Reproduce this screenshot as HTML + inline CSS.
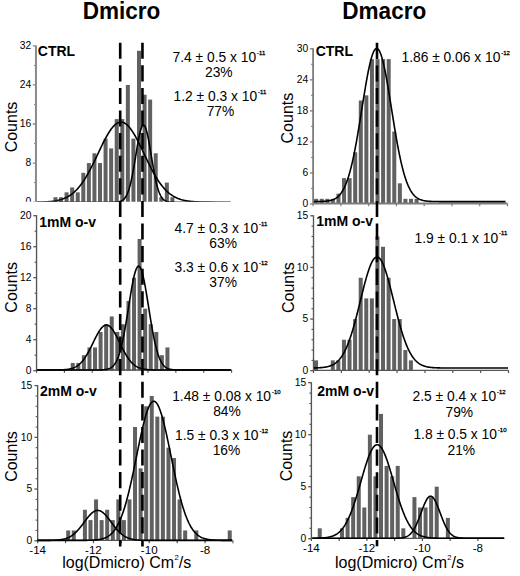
<!DOCTYPE html><html><head><meta charset="utf-8"><style>html,body{margin:0;padding:0;background:#fff;}body{width:520px;height:576px;overflow:hidden;} svg{display:block;}text{font-family:"Liberation Sans", sans-serif;fill:#000;}</style></head><body>
<svg width="520" height="576" viewBox="0 0 520 576">
<defs><clipPath id="c1"><rect x="0" y="0" width="520" height="201.8"/></clipPath><linearGradient id="gL1" gradientUnits="userSpaceOnUse" x1="36" y1="0" x2="232" y2="0"><stop offset="0" stop-color="#b0b0b0"/><stop offset="0.1" stop-color="#202020"/><stop offset="0.16" stop-color="#000"/><stop offset="0.78" stop-color="#000"/><stop offset="0.9" stop-color="#808080"/><stop offset="1" stop-color="#e8e8e8"/></linearGradient></defs>
<rect x="0" y="0" width="520" height="576" fill="#fff"/>
<text transform="translate(82.7 19.0) scale(0.98 1)" font-size="23.0" font-weight="bold">Dmicro</text>
<text transform="translate(342.3 19.0) scale(0.98 1)" font-size="23.0" font-weight="bold">Dmacro</text>
<g clip-path="url(#c1)">
<rect x="53.45" y="197.22" width="4" height="4.88" fill="#616161"/>
<rect x="59.02" y="197.22" width="4" height="4.88" fill="#616161"/>
<rect x="64.59" y="192.34" width="4" height="9.76" fill="#616161"/>
<rect x="70.16" y="187.46" width="4" height="14.64" fill="#616161"/>
<rect x="75.73" y="192.34" width="4" height="9.76" fill="#616161"/>
<rect x="81.3" y="172.81" width="4" height="29.29" fill="#616161"/>
<rect x="86.87" y="163.05" width="4" height="39.05" fill="#616161"/>
<rect x="92.44" y="153.29" width="4" height="48.81" fill="#616161"/>
<rect x="98.01" y="163.05" width="4" height="39.05" fill="#616161"/>
<rect x="103.58" y="138.64" width="4" height="63.46" fill="#616161"/>
<rect x="109.15" y="148.41" width="4" height="53.69" fill="#616161"/>
<rect x="114.72" y="119.12" width="4" height="82.98" fill="#616161"/>
<rect x="120.29" y="119.12" width="4" height="82.98" fill="#616161"/>
<rect x="125.86" y="84.95" width="4" height="117.15" fill="#616161"/>
<rect x="131.43" y="138.64" width="4" height="63.46" fill="#616161"/>
<rect x="137" y="50.78" width="4" height="151.32" fill="#616161"/>
<rect x="142.57" y="94.71" width="4" height="107.39" fill="#616161"/>
<rect x="148.14" y="99.59" width="4" height="102.51" fill="#616161"/>
<rect x="153.71" y="153.29" width="4" height="48.81" fill="#616161"/>
<rect x="159.28" y="197.22" width="4" height="4.88" fill="#616161"/>
<rect x="164.85" y="182.57" width="4" height="19.52" fill="#616161"/>
<rect x="170.42" y="197.22" width="4" height="4.88" fill="#616161"/>
<line x1="35.95" y1="45.4" x2="35.95" y2="202.1" stroke="#8a8a8a" stroke-width="2.0"/>
<line x1="32.75" y1="202.1" x2="35.95" y2="202.1" stroke="#8a8a8a" stroke-width="1.3"/>
<text x="31.2" y="205.4" font-size="10.3" text-anchor="end">0</text>
<line x1="33.95" y1="182.57" x2="35.95" y2="182.57" stroke="#8a8a8a" stroke-width="1.1"/>
<line x1="32.75" y1="163.05" x2="35.95" y2="163.05" stroke="#8a8a8a" stroke-width="1.3"/>
<text x="31.2" y="166.35" font-size="10.3" text-anchor="end">8</text>
<line x1="33.95" y1="143.53" x2="35.95" y2="143.53" stroke="#8a8a8a" stroke-width="1.1"/>
<line x1="32.75" y1="124" x2="35.95" y2="124" stroke="#8a8a8a" stroke-width="1.3"/>
<text x="31.2" y="127.3" font-size="10.3" text-anchor="end">16</text>
<line x1="33.95" y1="104.47" x2="35.95" y2="104.47" stroke="#8a8a8a" stroke-width="1.1"/>
<line x1="32.75" y1="84.95" x2="35.95" y2="84.95" stroke="#8a8a8a" stroke-width="1.3"/>
<text x="31.2" y="88.25" font-size="10.3" text-anchor="end">24</text>
<line x1="33.95" y1="65.43" x2="35.95" y2="65.43" stroke="#8a8a8a" stroke-width="1.1"/>
<line x1="32.75" y1="45.9" x2="35.95" y2="45.9" stroke="#8a8a8a" stroke-width="1.3"/>
<text x="31.2" y="49.2" font-size="10.3" text-anchor="end">32</text>
<path d="M36.9 202.1 L37.4 202.09 L37.9 202.08 L38.4 202.07 L38.9 202.06 L39.4 202.05 L39.9 202.04 L40.4 202.03 L40.9 202.01 L41.4 202 L41.9 201.98 L42.4 201.97 L42.9 201.95 L43.4 201.93 L43.9 201.91 L44.4 201.89 L44.9 201.86 L45.4 201.84 L45.9 201.81 L46.4 201.78 L46.9 201.75 L47.4 201.72 L47.9 201.69 L48.4 201.65 L48.9 201.61 L49.4 201.57 L49.9 201.53 L50.4 201.48 L50.9 201.43 L51.4 201.38 L51.9 201.32 L52.4 201.26 L52.9 201.2 L53.4 201.13 L53.9 201.06 L54.4 200.99 L54.9 200.91 L55.4 200.83 L55.9 200.74 L56.4 200.65 L56.9 200.55 L57.4 200.45 L57.9 200.34 L58.4 200.23 L58.9 200.11 L59.4 199.98 L59.9 199.85 L60.4 199.71 L60.9 199.57 L61.4 199.41 L61.9 199.25 L62.4 199.08 L62.9 198.91 L63.4 198.72 L63.9 198.53 L64.4 198.32 L64.9 198.11 L65.4 197.89 L65.9 197.66 L66.4 197.42 L66.9 197.17 L67.4 196.9 L67.9 196.63 L68.4 196.34 L68.9 196.05 L69.4 195.74 L69.9 195.42 L70.4 195.08 L70.9 194.73 L71.4 194.37 L71.9 194 L72.4 193.61 L72.9 193.21 L73.4 192.8 L73.9 192.37 L74.4 191.92 L74.9 191.46 L75.4 190.98 L75.9 190.49 L76.4 189.99 L76.9 189.46 L77.4 188.92 L77.9 188.37 L78.4 187.8 L78.9 187.21 L79.4 186.6 L79.9 185.98 L80.4 185.34 L80.9 184.69 L81.4 184.02 L81.9 183.33 L82.4 182.62 L82.9 181.9 L83.4 181.16 L83.9 180.4 L84.4 179.63 L84.9 178.84 L85.4 178.04 L85.9 177.22 L86.4 176.38 L86.9 175.53 L87.4 174.66 L87.9 173.78 L88.4 172.88 L88.9 171.97 L89.4 171.05 L89.9 170.11 L90.4 169.16 L90.9 168.2 L91.4 167.23 L91.9 166.24 L92.4 165.25 L92.9 164.25 L93.4 163.23 L93.9 162.21 L94.4 161.19 L94.9 160.15 L95.4 159.11 L95.9 158.07 L96.4 157.02 L96.9 155.97 L97.4 154.91 L97.9 153.86 L98.4 152.8 L98.9 151.75 L99.4 150.69 L99.9 149.64 L100.4 148.6 L100.9 147.56 L101.4 146.52 L101.9 145.49 L102.4 144.48 L102.9 143.47 L103.4 142.47 L103.9 141.48 L104.4 140.5 L104.9 139.54 L105.4 138.6 L105.9 137.67 L106.4 136.76 L106.9 135.86 L107.4 134.99 L107.9 134.13 L108.4 133.3 L108.9 132.49 L109.4 131.71 L109.9 130.95 L110.4 130.21 L110.9 129.51 L111.4 128.83 L111.9 128.17 L112.4 127.55 L112.9 126.96 L113.4 126.4 L113.9 125.87 L114.4 125.38 L114.9 124.91 L115.4 124.49 L115.9 124.09 L116.4 123.73 L116.9 123.41 L117.4 123.12 L117.9 122.87 L118.4 122.66 L118.9 122.48 L119.4 122.34 L119.9 122.24 L120.4 122.17 L120.9 122.15 L121.4 122.16 L121.9 122.21 L122.4 122.3 L122.9 122.42 L123.4 122.58 L123.9 122.78 L124.4 123.02 L124.9 123.29 L125.4 123.6 L125.9 123.94 L126.4 124.32 L126.9 124.74 L127.4 125.19 L127.9 125.67 L128.4 126.19 L128.9 126.73 L129.4 127.31 L129.9 127.92 L130.4 128.56 L130.9 129.23 L131.4 129.93 L131.9 130.65 L132.4 131.4 L132.9 132.18 L133.4 132.98 L133.9 133.8 L134.4 134.64 L134.9 135.51 L135.4 136.4 L135.9 137.3 L136.4 138.22 L136.9 139.16 L137.4 140.12 L137.9 141.09 L138.4 142.07 L138.9 143.06 L139.4 144.07 L139.9 145.09 L140.4 146.11 L140.9 147.14 L141.4 148.18 L141.9 149.23 L142.4 150.27 L142.9 151.33 L143.4 152.38 L143.9 153.43 L144.4 154.49 L144.9 155.54 L145.4 156.6 L145.9 157.65 L146.4 158.69 L146.9 159.74 L147.4 160.77 L147.9 161.8 L148.4 162.83 L148.9 163.84 L149.4 164.85 L149.9 165.85 L150.4 166.84 L150.9 167.81 L151.4 168.78 L151.9 169.73 L152.4 170.68 L152.9 171.6 L153.4 172.52 L153.9 173.42 L154.4 174.31 L154.9 175.18 L155.4 176.04 L155.9 176.88 L156.4 177.71 L156.9 178.52 L157.4 179.32 L157.9 180.1 L158.4 180.86 L158.9 181.61 L159.4 182.34 L159.9 183.05 L160.4 183.74 L160.9 184.42 L161.4 185.08 L161.9 185.73 L162.4 186.36 L162.9 186.97 L163.4 187.56 L163.9 188.14 L164.4 188.7 L164.9 189.25 L165.4 189.78 L165.9 190.29 L166.4 190.79 L166.9 191.27 L167.4 191.74 L167.9 192.19 L168.4 192.63 L168.9 193.05 L169.4 193.45 L169.9 193.85 L170.4 194.23 L170.9 194.59 L171.4 194.94 L171.9 195.28 L172.4 195.61 L172.9 195.92 L173.4 196.23 L173.9 196.52 L174.4 196.79 L174.9 197.06 L175.4 197.32 L175.9 197.56 L176.4 197.8 L176.9 198.02 L177.4 198.24 L177.9 198.45 L178.4 198.64 L178.9 198.83 L179.4 199.01 L179.9 199.18 L180.4 199.35 L180.9 199.51 L181.4 199.65 L181.9 199.8 L182.4 199.93 L182.9 200.06 L183.4 200.18 L183.9 200.3 L184.4 200.41 L184.9 200.51 L185.4 200.61 L185.9 200.71 L186.4 200.8 L186.9 200.88 L187.4 200.96 L187.9 201.04 L188.4 201.11 L188.9 201.17 L189.4 201.24 L189.9 201.3 L190.4 201.36 L190.9 201.41 L191.4 201.46 L191.9 201.51 L192.4 201.55 L192.9 201.6 L193.4 201.64 L193.9 201.67 L194.4 201.71 L194.9 201.74 L195.4 201.77 L195.9 201.8 L196.4 201.83 L196.9 201.85 L197.4 201.88 L197.9 201.9 L198.4 201.92 L198.9 201.94 L199.4 201.96 L199.9 201.98 L200.4 201.99 L200.9 202.01 L201.4 202.02 L201.9 202.04 L202.4 202.05 L202.9 202.06 L203.4 202.07 L203.9 202.08 L204.4 202.09 L204.9 202.1 L205.4 202.1 L205.9 202.11 L206.4 202.12 L206.9 202.13 L207.4 202.13 L207.9 202.14 L208.4 202.14 L208.9 202.15 L209.4 202.15 L209.9 202.15 L210.4 202.16 L210.9 202.16 L211.4 202.16 L211.9 202.17 L212.4 202.17 L212.9 202.17 L213.4 202.17 L213.9 202.18 L214.4 202.18 L214.9 202.18 L215.4 202.18 L215.9 202.18 L216.4 202.19 L216.9 202.19 L217.4 202.19 L217.9 202.19 L218.4 202.19 L218.9 202.19 L219.4 202.19 L219.9 202.19 L220.4 202.19 L220.9 202.19 L221.4 202.19 L221.9 202.19 L222.4 202.2 L222.9 202.2 L223.4 202.2 L223.9 202.2 L224.4 202.2 L224.9 202.2 L225.4 202.2 L225.9 202.2 L226.4 202.2 L226.9 202.2 L227.4 202.2 L227.9 202.2 L228.4 202.2 L228.9 202.2 L229.4 202.2 L229.9 202.2 L230.4 202.2 L230.9 202.2" fill="none" stroke="url(#gL1)" stroke-width="1.6"/>
<path d="M36.9 202.2 L37.4 202.2 L37.9 202.2 L38.4 202.2 L38.9 202.2 L39.4 202.2 L39.9 202.2 L40.4 202.2 L40.9 202.2 L41.4 202.2 L41.9 202.2 L42.4 202.2 L42.9 202.2 L43.4 202.2 L43.9 202.2 L44.4 202.2 L44.9 202.2 L45.4 202.2 L45.9 202.2 L46.4 202.2 L46.9 202.2 L47.4 202.2 L47.9 202.2 L48.4 202.2 L48.9 202.2 L49.4 202.2 L49.9 202.2 L50.4 202.2 L50.9 202.2 L51.4 202.2 L51.9 202.2 L52.4 202.2 L52.9 202.2 L53.4 202.2 L53.9 202.2 L54.4 202.2 L54.9 202.2 L55.4 202.2 L55.9 202.2 L56.4 202.2 L56.9 202.2 L57.4 202.2 L57.9 202.2 L58.4 202.2 L58.9 202.2 L59.4 202.2 L59.9 202.2 L60.4 202.2 L60.9 202.2 L61.4 202.2 L61.9 202.2 L62.4 202.2 L62.9 202.2 L63.4 202.2 L63.9 202.2 L64.4 202.2 L64.9 202.2 L65.4 202.2 L65.9 202.2 L66.4 202.2 L66.9 202.2 L67.4 202.2 L67.9 202.2 L68.4 202.2 L68.9 202.2 L69.4 202.2 L69.9 202.2 L70.4 202.2 L70.9 202.2 L71.4 202.2 L71.9 202.2 L72.4 202.2 L72.9 202.2 L73.4 202.2 L73.9 202.2 L74.4 202.2 L74.9 202.2 L75.4 202.2 L75.9 202.2 L76.4 202.2 L76.9 202.2 L77.4 202.2 L77.9 202.2 L78.4 202.2 L78.9 202.2 L79.4 202.2 L79.9 202.2 L80.4 202.2 L80.9 202.2 L81.4 202.2 L81.9 202.2 L82.4 202.2 L82.9 202.2 L83.4 202.2 L83.9 202.2 L84.4 202.2 L84.9 202.2 L85.4 202.2 L85.9 202.2 L86.4 202.2 L86.9 202.2 L87.4 202.2 L87.9 202.2 L88.4 202.2 L88.9 202.2 L89.4 202.2 L89.9 202.2 L90.4 202.2 L90.9 202.2 L91.4 202.2 L91.9 202.2 L92.4 202.2 L92.9 202.2 L93.4 202.2 L93.9 202.2 L94.4 202.2 L94.9 202.2 L95.4 202.2 L95.9 202.2 L96.4 202.2 L96.9 202.2 L97.4 202.2 L97.9 202.2 L98.4 202.2 L98.9 202.2 L99.4 202.2 L99.9 202.2 L100.4 202.2 L100.9 202.2 L101.4 202.2 L101.9 202.2 L102.4 202.2 L102.9 202.2 L103.4 202.2 L103.9 202.2 L104.4 202.2 L104.9 202.2 L105.4 202.2 L105.9 202.2 L106.4 202.2 L106.9 202.2 L107.4 202.2 L107.9 202.2 L108.4 202.2 L108.9 202.2 L109.4 202.2 L109.9 202.19 L110.4 202.19 L110.9 202.19 L111.4 202.19 L111.9 202.18 L112.4 202.18 L112.9 202.17 L113.4 202.16 L113.9 202.15 L114.4 202.14 L114.9 202.12 L115.4 202.1 L115.9 202.07 L116.4 202.04 L116.9 202 L117.4 201.95 L117.9 201.89 L118.4 201.82 L118.9 201.73 L119.4 201.62 L119.9 201.5 L120.4 201.34 L120.9 201.16 L121.4 200.95 L121.9 200.69 L122.4 200.39 L122.9 200.05 L123.4 199.64 L123.9 199.18 L124.4 198.64 L124.9 198.03 L125.4 197.33 L125.9 196.54 L126.4 195.65 L126.9 194.65 L127.4 193.53 L127.9 192.29 L128.4 190.93 L128.9 189.42 L129.4 187.78 L129.9 185.99 L130.4 184.06 L130.9 181.98 L131.4 179.76 L131.9 177.4 L132.4 174.91 L132.9 172.3 L133.4 169.57 L133.9 166.75 L134.4 163.84 L134.9 160.87 L135.4 157.85 L135.9 154.81 L136.4 151.78 L136.9 148.79 L137.4 145.85 L137.9 143 L138.4 140.27 L138.9 137.68 L139.4 135.27 L139.9 133.06 L140.4 131.08 L140.9 129.35 L141.4 127.89 L141.9 126.72 L142.4 125.86 L142.9 125.31 L143.4 125.08 L143.9 125.18 L144.4 125.6 L144.9 126.34 L145.4 127.39 L145.9 128.73 L146.4 130.36 L146.9 132.24 L147.4 134.36 L147.9 136.69 L148.4 139.21 L148.9 141.89 L149.4 144.7 L149.9 147.6 L150.4 150.58 L150.9 153.6 L151.4 156.64 L151.9 159.66 L152.4 162.66 L152.9 165.59 L153.4 168.45 L153.9 171.22 L154.4 173.88 L154.9 176.42 L155.4 178.84 L155.9 181.11 L156.4 183.25 L156.9 185.23 L157.4 187.08 L157.9 188.78 L158.4 190.34 L158.9 191.76 L159.4 193.05 L159.9 194.22 L160.4 195.26 L160.9 196.2 L161.4 197.03 L161.9 197.76 L162.4 198.41 L162.9 198.97 L163.4 199.47 L163.9 199.89 L164.4 200.26 L164.9 200.58 L165.4 200.85 L165.9 201.08 L166.4 201.27 L166.9 201.44 L167.4 201.58 L167.9 201.69 L168.4 201.79 L168.9 201.87 L169.4 201.93 L169.9 201.98 L170.4 202.03 L170.9 202.06 L171.4 202.09 L171.9 202.11 L172.4 202.13 L172.9 202.15 L173.4 202.16 L173.9 202.17 L174.4 202.18 L174.9 202.18 L175.4 202.19 L175.9 202.19 L176.4 202.19 L176.9 202.19 L177.4 202.2 L177.9 202.2 L178.4 202.2 L178.9 202.2 L179.4 202.2 L179.9 202.2 L180.4 202.2 L180.9 202.2 L181.4 202.2 L181.9 202.2 L182.4 202.2 L182.9 202.2 L183.4 202.2 L183.9 202.2 L184.4 202.2 L184.9 202.2 L185.4 202.2 L185.9 202.2 L186.4 202.2 L186.9 202.2 L187.4 202.2 L187.9 202.2 L188.4 202.2 L188.9 202.2 L189.4 202.2 L189.9 202.2 L190.4 202.2 L190.9 202.2 L191.4 202.2 L191.9 202.2 L192.4 202.2 L192.9 202.2 L193.4 202.2 L193.9 202.2 L194.4 202.2 L194.9 202.2 L195.4 202.2 L195.9 202.2 L196.4 202.2 L196.9 202.2 L197.4 202.2 L197.9 202.2 L198.4 202.2 L198.9 202.2 L199.4 202.2 L199.9 202.2 L200.4 202.2 L200.9 202.2 L201.4 202.2 L201.9 202.2 L202.4 202.2 L202.9 202.2 L203.4 202.2 L203.9 202.2 L204.4 202.2 L204.9 202.2 L205.4 202.2 L205.9 202.2 L206.4 202.2 L206.9 202.2 L207.4 202.2 L207.9 202.2 L208.4 202.2 L208.9 202.2 L209.4 202.2 L209.9 202.2 L210.4 202.2 L210.9 202.2 L211.4 202.2 L211.9 202.2 L212.4 202.2 L212.9 202.2 L213.4 202.2 L213.9 202.2 L214.4 202.2 L214.9 202.2 L215.4 202.2 L215.9 202.2 L216.4 202.2 L216.9 202.2 L217.4 202.2 L217.9 202.2 L218.4 202.2 L218.9 202.2 L219.4 202.2 L219.9 202.2 L220.4 202.2 L220.9 202.2 L221.4 202.2 L221.9 202.2 L222.4 202.2 L222.9 202.2 L223.4 202.2 L223.9 202.2 L224.4 202.2 L224.9 202.2 L225.4 202.2 L225.9 202.2 L226.4 202.2 L226.9 202.2 L227.4 202.2 L227.9 202.2 L228.4 202.2 L228.9 202.2 L229.4 202.2 L229.9 202.2 L230.4 202.2 L230.9 202.2" fill="none" stroke="#000" stroke-width="1.6"/>
</g>
<text x="0" y="0" font-size="16" text-anchor="middle" transform="translate(17.4 127) rotate(-90)">Counts</text>
<text x="37.8" y="55.6" font-size="14" font-weight="bold">CTRL</text>
<rect x="70.75" y="362.95" width="4" height="7.75" fill="#616161"/>
<rect x="76.32" y="362.95" width="4" height="7.75" fill="#616161"/>
<rect x="81.89" y="355.2" width="4" height="15.5" fill="#616161"/>
<rect x="87.46" y="347.45" width="4" height="23.25" fill="#616161"/>
<rect x="93.03" y="347.45" width="4" height="23.25" fill="#616161"/>
<rect x="98.6" y="331.95" width="4" height="38.75" fill="#616161"/>
<rect x="104.17" y="324.2" width="4" height="46.5" fill="#616161"/>
<rect x="109.74" y="316.45" width="4" height="54.25" fill="#616161"/>
<rect x="115.31" y="331.95" width="4" height="38.75" fill="#616161"/>
<rect x="120.88" y="324.2" width="4" height="46.5" fill="#616161"/>
<rect x="126.45" y="300.95" width="4" height="69.75" fill="#616161"/>
<rect x="132.02" y="277.7" width="4" height="93" fill="#616161"/>
<rect x="137.59" y="238.95" width="4" height="131.75" fill="#616161"/>
<rect x="143.16" y="308.7" width="4" height="62" fill="#616161"/>
<rect x="148.73" y="324.2" width="4" height="46.5" fill="#616161"/>
<rect x="154.3" y="331.95" width="4" height="38.75" fill="#616161"/>
<rect x="159.87" y="355.2" width="4" height="15.5" fill="#616161"/>
<rect x="165.44" y="347.45" width="4" height="23.25" fill="#616161"/>
<line x1="36.55" y1="215.2" x2="36.55" y2="370" stroke="#555" stroke-width="1.35"/>
<line x1="33.35" y1="370.7" x2="36.55" y2="370.7" stroke="#555" stroke-width="1.3"/>
<text x="31.4" y="374" font-size="10.3" text-anchor="end">0</text>
<line x1="34.55" y1="355.2" x2="36.55" y2="355.2" stroke="#555" stroke-width="1.1"/>
<line x1="33.35" y1="339.7" x2="36.55" y2="339.7" stroke="#555" stroke-width="1.3"/>
<text x="31.4" y="343" font-size="10.3" text-anchor="end">4</text>
<line x1="34.55" y1="324.2" x2="36.55" y2="324.2" stroke="#555" stroke-width="1.1"/>
<line x1="33.35" y1="308.7" x2="36.55" y2="308.7" stroke="#555" stroke-width="1.3"/>
<text x="31.4" y="312" font-size="10.3" text-anchor="end">8</text>
<line x1="34.55" y1="293.2" x2="36.55" y2="293.2" stroke="#555" stroke-width="1.1"/>
<line x1="33.35" y1="277.7" x2="36.55" y2="277.7" stroke="#555" stroke-width="1.3"/>
<text x="31.4" y="281" font-size="10.3" text-anchor="end">12</text>
<line x1="34.55" y1="262.2" x2="36.55" y2="262.2" stroke="#555" stroke-width="1.1"/>
<line x1="33.35" y1="246.7" x2="36.55" y2="246.7" stroke="#555" stroke-width="1.3"/>
<text x="31.4" y="250" font-size="10.3" text-anchor="end">16</text>
<line x1="34.55" y1="231.2" x2="36.55" y2="231.2" stroke="#555" stroke-width="1.1"/>
<line x1="33.35" y1="215.7" x2="36.55" y2="215.7" stroke="#555" stroke-width="1.3"/>
<text x="31.4" y="219" font-size="10.3" text-anchor="end">20</text>
<line x1="36.55" y1="370" x2="231.7" y2="370" stroke="#555" stroke-width="1.35"/>
<line x1="36.55" y1="370" x2="36.55" y2="372.8" stroke="#555" stroke-width="1.2"/>
<line x1="64.41" y1="370" x2="64.41" y2="372.8" stroke="#555" stroke-width="1.2"/>
<line x1="92.27" y1="370" x2="92.27" y2="372.8" stroke="#555" stroke-width="1.2"/>
<line x1="120.13" y1="370" x2="120.13" y2="372.8" stroke="#555" stroke-width="1.2"/>
<line x1="147.99" y1="370" x2="147.99" y2="372.8" stroke="#555" stroke-width="1.2"/>
<line x1="175.85" y1="370" x2="175.85" y2="372.8" stroke="#555" stroke-width="1.2"/>
<line x1="203.71" y1="370" x2="203.71" y2="372.8" stroke="#555" stroke-width="1.2"/>
<line x1="231.57" y1="370" x2="231.57" y2="372.8" stroke="#555" stroke-width="1.2"/>
<path d="M37.2 370 L37.7 370 L38.2 370 L38.7 370 L39.2 370 L39.7 370 L40.2 370 L40.7 370 L41.2 370 L41.7 370 L42.2 370 L42.7 370 L43.2 370 L43.7 370 L44.2 370 L44.7 370 L45.2 370 L45.7 370 L46.2 370 L46.7 370 L47.2 370 L47.7 370 L48.2 370 L48.7 370 L49.2 370 L49.7 369.99 L50.2 369.99 L50.7 369.99 L51.2 369.99 L51.7 369.99 L52.2 369.99 L52.7 369.99 L53.2 369.98 L53.7 369.98 L54.2 369.98 L54.7 369.98 L55.2 369.97 L55.7 369.97 L56.2 369.96 L56.7 369.96 L57.2 369.95 L57.7 369.94 L58.2 369.94 L58.7 369.93 L59.2 369.92 L59.7 369.91 L60.2 369.89 L60.7 369.88 L61.2 369.86 L61.7 369.84 L62.2 369.82 L62.7 369.8 L63.2 369.77 L63.7 369.74 L64.2 369.71 L64.7 369.67 L65.2 369.63 L65.7 369.58 L66.2 369.53 L66.7 369.48 L67.2 369.42 L67.7 369.35 L68.2 369.27 L68.7 369.19 L69.2 369.1 L69.7 369 L70.2 368.89 L70.7 368.77 L71.2 368.65 L71.7 368.51 L72.2 368.35 L72.7 368.19 L73.2 368.01 L73.7 367.81 L74.2 367.6 L74.7 367.37 L75.2 367.13 L75.7 366.87 L76.2 366.59 L76.7 366.29 L77.2 365.96 L77.7 365.62 L78.2 365.25 L78.7 364.86 L79.2 364.45 L79.7 364.01 L80.2 363.54 L80.7 363.05 L81.2 362.53 L81.7 361.99 L82.2 361.41 L82.7 360.81 L83.2 360.18 L83.7 359.52 L84.2 358.84 L84.7 358.12 L85.2 357.38 L85.7 356.61 L86.2 355.82 L86.7 354.99 L87.2 354.14 L87.7 353.27 L88.2 352.38 L88.7 351.46 L89.2 350.52 L89.7 349.57 L90.2 348.59 L90.7 347.61 L91.2 346.61 L91.7 345.6 L92.2 344.58 L92.7 343.56 L93.2 342.53 L93.7 341.51 L94.2 340.49 L94.7 339.47 L95.2 338.47 L95.7 337.48 L96.2 336.5 L96.7 335.55 L97.2 334.61 L97.7 333.71 L98.2 332.83 L98.7 331.99 L99.2 331.18 L99.7 330.41 L100.2 329.68 L100.7 328.99 L101.2 328.36 L101.7 327.77 L102.2 327.24 L102.7 326.76 L103.2 326.33 L103.7 325.97 L104.2 325.66 L104.7 325.42 L105.2 325.23 L105.7 325.11 L106.2 325.06 L106.7 325.06 L107.2 325.13 L107.7 325.26 L108.2 325.46 L108.7 325.72 L109.2 326.04 L109.7 326.41 L110.2 326.85 L110.7 327.34 L111.2 327.88 L111.7 328.48 L112.2 329.13 L112.7 329.82 L113.2 330.56 L113.7 331.34 L114.2 332.15 L114.7 333 L115.2 333.89 L115.7 334.8 L116.2 335.74 L116.7 336.7 L117.2 337.67 L117.7 338.67 L118.2 339.67 L118.7 340.69 L119.2 341.71 L119.7 342.74 L120.2 343.76 L120.7 344.78 L121.2 345.8 L121.7 346.81 L122.2 347.8 L122.7 348.79 L123.2 349.76 L123.7 350.71 L124.2 351.64 L124.7 352.56 L125.2 353.45 L125.7 354.32 L126.2 355.16 L126.7 355.98 L127.2 356.77 L127.7 357.53 L128.2 358.27 L128.7 358.98 L129.2 359.66 L129.7 360.31 L130.2 360.93 L130.7 361.53 L131.2 362.1 L131.7 362.64 L132.2 363.15 L132.7 363.64 L133.2 364.1 L133.7 364.53 L134.2 364.94 L134.7 365.33 L135.2 365.69 L135.7 366.03 L136.2 366.35 L136.7 366.64 L137.2 366.92 L137.7 367.18 L138.2 367.42 L138.7 367.64 L139.2 367.85 L139.7 368.04 L140.2 368.22 L140.7 368.38 L141.2 368.53 L141.7 368.67 L142.2 368.8 L142.7 368.92 L143.2 369.02 L143.7 369.12 L144.2 369.21 L144.7 369.29 L145.2 369.36 L145.7 369.43 L146.2 369.49 L146.7 369.54 L147.2 369.59 L147.7 369.64 L148.2 369.68 L148.7 369.71 L149.2 369.75 L149.7 369.78 L150.2 369.8 L150.7 369.82 L151.2 369.85 L151.7 369.86 L152.2 369.88 L152.7 369.9 L153.2 369.91 L153.7 369.92 L154.2 369.93 L154.7 369.94 L155.2 369.95 L155.7 369.95 L156.2 369.96 L156.7 369.96 L157.2 369.97 L157.7 369.97 L158.2 369.98 L158.7 369.98 L159.2 369.98 L159.7 369.99 L160.2 369.99 L160.7 369.99 L161.2 369.99 L161.7 369.99 L162.2 369.99 L162.7 369.99 L163.2 370 L163.7 370 L164.2 370 L164.7 370 L165.2 370 L165.7 370 L166.2 370 L166.7 370 L167.2 370 L167.7 370 L168.2 370 L168.7 370 L169.2 370 L169.7 370 L170.2 370 L170.7 370 L171.2 370 L171.7 370 L172.2 370 L172.7 370 L173.2 370 L173.7 370 L174.2 370 L174.7 370 L175.2 370 L175.7 370 L176.2 370 L176.7 370 L177.2 370 L177.7 370 L178.2 370 L178.7 370 L179.2 370 L179.7 370 L180.2 370 L180.7 370 L181.2 370 L181.7 370 L182.2 370 L182.7 370 L183.2 370 L183.7 370 L184.2 370 L184.7 370 L185.2 370 L185.7 370 L186.2 370 L186.7 370 L187.2 370 L187.7 370 L188.2 370 L188.7 370 L189.2 370 L189.7 370 L190.2 370 L190.7 370 L191.2 370 L191.7 370 L192.2 370 L192.7 370 L193.2 370 L193.7 370 L194.2 370 L194.7 370 L195.2 370 L195.7 370 L196.2 370 L196.7 370 L197.2 370 L197.7 370 L198.2 370 L198.7 370 L199.2 370 L199.7 370 L200.2 370 L200.7 370 L201.2 370 L201.7 370 L202.2 370 L202.7 370 L203.2 370 L203.7 370 L204.2 370 L204.7 370 L205.2 370 L205.7 370 L206.2 370 L206.7 370 L207.2 370 L207.7 370 L208.2 370 L208.7 370 L209.2 370 L209.7 370 L210.2 370 L210.7 370 L211.2 370 L211.7 370 L212.2 370 L212.7 370 L213.2 370 L213.7 370 L214.2 370 L214.7 370 L215.2 370 L215.7 370 L216.2 370 L216.7 370 L217.2 370 L217.7 370 L218.2 370 L218.7 370 L219.2 370 L219.7 370 L220.2 370 L220.7 370 L221.2 370 L221.7 370 L222.2 370 L222.7 370 L223.2 370 L223.7 370 L224.2 370 L224.7 370 L225.2 370 L225.7 370 L226.2 370 L226.7 370 L227.2 370 L227.7 370 L228.2 370 L228.7 370 L229.2 370 L229.7 370 L230.2 370 L230.7 370" fill="none" stroke="#000" stroke-width="1.6"/>
<path d="M37.2 370 L37.7 370 L38.2 370 L38.7 370 L39.2 370 L39.7 370 L40.2 370 L40.7 370 L41.2 370 L41.7 370 L42.2 370 L42.7 370 L43.2 370 L43.7 370 L44.2 370 L44.7 370 L45.2 370 L45.7 370 L46.2 370 L46.7 370 L47.2 370 L47.7 370 L48.2 370 L48.7 370 L49.2 370 L49.7 370 L50.2 370 L50.7 370 L51.2 370 L51.7 370 L52.2 370 L52.7 370 L53.2 370 L53.7 370 L54.2 370 L54.7 370 L55.2 370 L55.7 370 L56.2 370 L56.7 370 L57.2 370 L57.7 370 L58.2 370 L58.7 370 L59.2 370 L59.7 370 L60.2 370 L60.7 370 L61.2 370 L61.7 370 L62.2 370 L62.7 370 L63.2 370 L63.7 370 L64.2 370 L64.7 370 L65.2 370 L65.7 370 L66.2 370 L66.7 370 L67.2 370 L67.7 370 L68.2 370 L68.7 370 L69.2 370 L69.7 370 L70.2 370 L70.7 370 L71.2 370 L71.7 370 L72.2 370 L72.7 370 L73.2 370 L73.7 370 L74.2 370 L74.7 370 L75.2 370 L75.7 370 L76.2 370 L76.7 370 L77.2 370 L77.7 370 L78.2 370 L78.7 370 L79.2 370 L79.7 370 L80.2 370 L80.7 370 L81.2 370 L81.7 370 L82.2 370 L82.7 370 L83.2 370 L83.7 370 L84.2 370 L84.7 370 L85.2 370 L85.7 370 L86.2 370 L86.7 370 L87.2 370 L87.7 370 L88.2 370 L88.7 370 L89.2 370 L89.7 370 L90.2 370 L90.7 370 L91.2 370 L91.7 370 L92.2 370 L92.7 370 L93.2 370 L93.7 370 L94.2 369.99 L94.7 369.99 L95.2 369.99 L95.7 369.99 L96.2 369.99 L96.7 369.98 L97.2 369.98 L97.7 369.98 L98.2 369.97 L98.7 369.96 L99.2 369.96 L99.7 369.95 L100.2 369.93 L100.7 369.92 L101.2 369.9 L101.7 369.89 L102.2 369.86 L102.7 369.83 L103.2 369.8 L103.7 369.76 L104.2 369.72 L104.7 369.67 L105.2 369.61 L105.7 369.54 L106.2 369.45 L106.7 369.36 L107.2 369.25 L107.7 369.12 L108.2 368.98 L108.7 368.81 L109.2 368.62 L109.7 368.4 L110.2 368.16 L110.7 367.88 L111.2 367.57 L111.7 367.21 L112.2 366.82 L112.7 366.37 L113.2 365.87 L113.7 365.32 L114.2 364.71 L114.7 364.03 L115.2 363.28 L115.7 362.45 L116.2 361.55 L116.7 360.56 L117.2 359.48 L117.7 358.31 L118.2 357.04 L118.7 355.66 L119.2 354.18 L119.7 352.59 L120.2 350.89 L120.7 349.08 L121.2 347.15 L121.7 345.1 L122.2 342.94 L122.7 340.66 L123.2 338.27 L123.7 335.78 L124.2 333.18 L124.7 330.48 L125.2 327.68 L125.7 324.81 L126.2 321.86 L126.7 318.84 L127.2 315.77 L127.7 312.67 L128.2 309.53 L128.7 306.38 L129.2 303.24 L129.7 300.11 L130.2 297.02 L130.7 293.99 L131.2 291.02 L131.7 288.15 L132.2 285.38 L132.7 282.74 L133.2 280.24 L133.7 277.9 L134.2 275.73 L134.7 273.75 L135.2 271.98 L135.7 270.43 L136.2 269.1 L136.7 268.01 L137.2 267.16 L137.7 266.57 L138.2 266.23 L138.7 266.16 L139.2 266.34 L139.7 266.78 L140.2 267.47 L140.7 268.41 L141.2 269.6 L141.7 271.02 L142.2 272.67 L142.7 274.52 L143.2 276.58 L143.7 278.81 L144.2 281.22 L144.7 283.78 L145.2 286.47 L145.7 289.29 L146.2 292.2 L146.7 295.19 L147.2 298.25 L147.7 301.36 L148.2 304.49 L148.7 307.64 L149.2 310.79 L149.7 313.91 L150.2 317.01 L150.7 320.06 L151.2 323.05 L151.7 325.97 L152.2 328.81 L152.7 331.57 L153.2 334.23 L153.7 336.79 L154.2 339.24 L154.7 341.59 L155.2 343.82 L155.7 345.93 L156.2 347.93 L156.7 349.82 L157.2 351.59 L157.7 353.24 L158.2 354.79 L158.7 356.22 L159.2 357.56 L159.7 358.79 L160.2 359.92 L160.7 360.97 L161.2 361.92 L161.7 362.79 L162.2 363.59 L162.7 364.31 L163.2 364.96 L163.7 365.55 L164.2 366.08 L164.7 366.56 L165.2 366.98 L165.7 367.36 L166.2 367.7 L166.7 368 L167.2 368.26 L167.7 368.49 L168.2 368.7 L168.7 368.88 L169.2 369.04 L169.7 369.18 L170.2 369.3 L170.7 369.4 L171.2 369.49 L171.7 369.57 L172.2 369.63 L172.7 369.69 L173.2 369.74 L173.7 369.78 L174.2 369.82 L174.7 369.85 L175.2 369.87 L175.7 369.89 L176.2 369.91 L176.7 369.93 L177.2 369.94 L177.7 369.95 L178.2 369.96 L178.7 369.97 L179.2 369.97 L179.7 369.98 L180.2 369.98 L180.7 369.99 L181.2 369.99 L181.7 369.99 L182.2 369.99 L182.7 369.99 L183.2 370 L183.7 370 L184.2 370 L184.7 370 L185.2 370 L185.7 370 L186.2 370 L186.7 370 L187.2 370 L187.7 370 L188.2 370 L188.7 370 L189.2 370 L189.7 370 L190.2 370 L190.7 370 L191.2 370 L191.7 370 L192.2 370 L192.7 370 L193.2 370 L193.7 370 L194.2 370 L194.7 370 L195.2 370 L195.7 370 L196.2 370 L196.7 370 L197.2 370 L197.7 370 L198.2 370 L198.7 370 L199.2 370 L199.7 370 L200.2 370 L200.7 370 L201.2 370 L201.7 370 L202.2 370 L202.7 370 L203.2 370 L203.7 370 L204.2 370 L204.7 370 L205.2 370 L205.7 370 L206.2 370 L206.7 370 L207.2 370 L207.7 370 L208.2 370 L208.7 370 L209.2 370 L209.7 370 L210.2 370 L210.7 370 L211.2 370 L211.7 370 L212.2 370 L212.7 370 L213.2 370 L213.7 370 L214.2 370 L214.7 370 L215.2 370 L215.7 370 L216.2 370 L216.7 370 L217.2 370 L217.7 370 L218.2 370 L218.7 370 L219.2 370 L219.7 370 L220.2 370 L220.7 370 L221.2 370 L221.7 370 L222.2 370 L222.7 370 L223.2 370 L223.7 370 L224.2 370 L224.7 370 L225.2 370 L225.7 370 L226.2 370 L226.7 370 L227.2 370 L227.7 370 L228.2 370 L228.7 370 L229.2 370 L229.7 370 L230.2 370 L230.7 370" fill="none" stroke="#000" stroke-width="1.6"/>
<text x="0" y="0" font-size="16" text-anchor="middle" transform="translate(17.4 287.3) rotate(-90)">Counts</text>
<text x="39.2" y="226.5" font-size="14" font-weight="bold">1mM o-v</text>
<rect x="66.2" y="530.45" width="4" height="10.35" fill="#616161"/>
<rect x="71.77" y="530.45" width="4" height="10.35" fill="#616161"/>
<rect x="82.91" y="509.76" width="4" height="31.04" fill="#616161"/>
<rect x="88.48" y="520.11" width="4" height="20.69" fill="#616161"/>
<rect x="94.05" y="499.41" width="4" height="41.39" fill="#616161"/>
<rect x="99.62" y="520.11" width="4" height="20.69" fill="#616161"/>
<rect x="105.19" y="509.76" width="4" height="31.04" fill="#616161"/>
<rect x="110.76" y="520.11" width="4" height="20.69" fill="#616161"/>
<rect x="116.33" y="499.41" width="4" height="41.39" fill="#616161"/>
<rect x="121.9" y="520.11" width="4" height="20.69" fill="#616161"/>
<rect x="127.47" y="499.41" width="4" height="41.39" fill="#616161"/>
<rect x="133.04" y="426.99" width="4" height="113.81" fill="#616161"/>
<rect x="138.61" y="468.37" width="4" height="72.43" fill="#616161"/>
<rect x="144.18" y="406.29" width="4" height="134.51" fill="#616161"/>
<rect x="149.75" y="395.95" width="4" height="144.85" fill="#616161"/>
<rect x="155.32" y="416.64" width="4" height="124.16" fill="#616161"/>
<rect x="160.89" y="416.64" width="4" height="124.16" fill="#616161"/>
<rect x="166.46" y="447.68" width="4" height="93.12" fill="#616161"/>
<rect x="172.03" y="458.03" width="4" height="82.77" fill="#616161"/>
<rect x="177.6" y="499.41" width="4" height="41.39" fill="#616161"/>
<rect x="183.17" y="530.45" width="4" height="10.35" fill="#616161"/>
<rect x="194.31" y="530.45" width="4" height="10.35" fill="#616161"/>
<rect x="227.73" y="530.45" width="4" height="10.35" fill="#616161"/>
<line x1="37.65" y1="385.1" x2="37.65" y2="540.4" stroke="#555" stroke-width="1.35"/>
<line x1="34.45" y1="540.8" x2="37.65" y2="540.8" stroke="#555" stroke-width="1.3"/>
<text x="32.3" y="544.1" font-size="10.3" text-anchor="end">0</text>
<line x1="35.65" y1="530.45" x2="37.65" y2="530.45" stroke="#555" stroke-width="1.1"/>
<line x1="35.65" y1="520.11" x2="37.65" y2="520.11" stroke="#555" stroke-width="1.1"/>
<line x1="35.65" y1="509.76" x2="37.65" y2="509.76" stroke="#555" stroke-width="1.1"/>
<line x1="35.65" y1="499.41" x2="37.65" y2="499.41" stroke="#555" stroke-width="1.1"/>
<line x1="34.45" y1="489.07" x2="37.65" y2="489.07" stroke="#555" stroke-width="1.3"/>
<text x="32.3" y="492.37" font-size="10.3" text-anchor="end">5</text>
<line x1="35.65" y1="478.72" x2="37.65" y2="478.72" stroke="#555" stroke-width="1.1"/>
<line x1="35.65" y1="468.37" x2="37.65" y2="468.37" stroke="#555" stroke-width="1.1"/>
<line x1="35.65" y1="458.03" x2="37.65" y2="458.03" stroke="#555" stroke-width="1.1"/>
<line x1="35.65" y1="447.68" x2="37.65" y2="447.68" stroke="#555" stroke-width="1.1"/>
<line x1="34.45" y1="437.33" x2="37.65" y2="437.33" stroke="#555" stroke-width="1.3"/>
<text x="32.3" y="440.63" font-size="10.3" text-anchor="end">10</text>
<line x1="35.65" y1="426.99" x2="37.65" y2="426.99" stroke="#555" stroke-width="1.1"/>
<line x1="35.65" y1="416.64" x2="37.65" y2="416.64" stroke="#555" stroke-width="1.1"/>
<line x1="35.65" y1="406.29" x2="37.65" y2="406.29" stroke="#555" stroke-width="1.1"/>
<line x1="35.65" y1="395.95" x2="37.65" y2="395.95" stroke="#555" stroke-width="1.1"/>
<line x1="34.45" y1="385.6" x2="37.65" y2="385.6" stroke="#555" stroke-width="1.3"/>
<text x="32.3" y="388.9" font-size="10.3" text-anchor="end">15</text>
<line x1="37.65" y1="540.4" x2="232.9" y2="540.4" stroke="#555" stroke-width="1.35"/>
<line x1="37.65" y1="540.4" x2="37.65" y2="543.2" stroke="#555" stroke-width="1.2"/>
<line x1="65.55" y1="540.4" x2="65.55" y2="543.2" stroke="#555" stroke-width="1.2"/>
<line x1="93.45" y1="540.4" x2="93.45" y2="543.2" stroke="#555" stroke-width="1.2"/>
<line x1="121.35" y1="540.4" x2="121.35" y2="543.2" stroke="#555" stroke-width="1.2"/>
<line x1="149.25" y1="540.4" x2="149.25" y2="543.2" stroke="#555" stroke-width="1.2"/>
<line x1="177.15" y1="540.4" x2="177.15" y2="543.2" stroke="#555" stroke-width="1.2"/>
<line x1="205.05" y1="540.4" x2="205.05" y2="543.2" stroke="#555" stroke-width="1.2"/>
<line x1="232.95" y1="540.4" x2="232.95" y2="543.2" stroke="#555" stroke-width="1.2"/>
<text x="37.65" y="553.6" font-size="11.6" text-anchor="middle">-14</text>
<text x="93.45" y="553.6" font-size="11.6" text-anchor="middle">-12</text>
<text x="149.25" y="553.6" font-size="11.6" text-anchor="middle">-10</text>
<text x="205.05" y="553.6" font-size="11.6" text-anchor="middle">-8</text>
<path d="M37.5 540.4 L38 540.4 L38.5 540.4 L39 540.4 L39.5 540.4 L40 540.4 L40.5 540.4 L41 540.4 L41.5 540.39 L42 540.39 L42.5 540.39 L43 540.39 L43.5 540.39 L44 540.39 L44.5 540.39 L45 540.39 L45.5 540.38 L46 540.38 L46.5 540.38 L47 540.37 L47.5 540.37 L48 540.37 L48.5 540.36 L49 540.36 L49.5 540.35 L50 540.34 L50.5 540.33 L51 540.32 L51.5 540.31 L52 540.3 L52.5 540.29 L53 540.28 L53.5 540.26 L54 540.24 L54.5 540.22 L55 540.2 L55.5 540.17 L56 540.15 L56.5 540.12 L57 540.08 L57.5 540.04 L58 540 L58.5 539.96 L59 539.91 L59.5 539.85 L60 539.79 L60.5 539.73 L61 539.65 L61.5 539.58 L62 539.49 L62.5 539.4 L63 539.3 L63.5 539.19 L64 539.07 L64.5 538.94 L65 538.8 L65.5 538.65 L66 538.5 L66.5 538.32 L67 538.14 L67.5 537.94 L68 537.73 L68.5 537.51 L69 537.27 L69.5 537.01 L70 536.74 L70.5 536.46 L71 536.16 L71.5 535.84 L72 535.5 L72.5 535.15 L73 534.77 L73.5 534.38 L74 533.97 L74.5 533.55 L75 533.1 L75.5 532.64 L76 532.16 L76.5 531.66 L77 531.14 L77.5 530.6 L78 530.05 L78.5 529.49 L79 528.9 L79.5 528.31 L80 527.7 L80.5 527.07 L81 526.44 L81.5 525.79 L82 525.14 L82.5 524.48 L83 523.81 L83.5 523.14 L84 522.47 L84.5 521.8 L85 521.12 L85.5 520.45 L86 519.79 L86.5 519.13 L87 518.48 L87.5 517.85 L88 517.22 L88.5 516.61 L89 516.02 L89.5 515.45 L90 514.9 L90.5 514.37 L91 513.87 L91.5 513.4 L92 512.95 L92.5 512.54 L93 512.16 L93.5 511.81 L94 511.5 L94.5 511.23 L95 510.99 L95.5 510.79 L96 510.63 L96.5 510.51 L97 510.43 L97.5 510.4 L98 510.4 L98.5 510.45 L99 510.53 L99.5 510.66 L100 510.83 L100.5 511.03 L101 511.28 L101.5 511.56 L102 511.88 L102.5 512.23 L103 512.62 L103.5 513.04 L104 513.49 L104.5 513.97 L105 514.48 L105.5 515.01 L106 515.56 L106.5 516.14 L107 516.73 L107.5 517.34 L108 517.97 L108.5 518.61 L109 519.26 L109.5 519.92 L110 520.59 L110.5 521.26 L111 521.93 L111.5 522.61 L112 523.28 L112.5 523.95 L113 524.61 L113.5 525.27 L114 525.92 L114.5 526.57 L115 527.2 L115.5 527.82 L116 528.43 L116.5 529.02 L117 529.6 L117.5 530.16 L118 530.71 L118.5 531.24 L119 531.76 L119.5 532.25 L120 532.73 L120.5 533.19 L121 533.63 L121.5 534.06 L122 534.46 L122.5 534.85 L123 535.22 L123.5 535.57 L124 535.9 L124.5 536.22 L125 536.52 L125.5 536.8 L126 537.07 L126.5 537.32 L127 537.55 L127.5 537.78 L128 537.98 L128.5 538.18 L129 538.36 L129.5 538.53 L130 538.69 L130.5 538.83 L131 538.97 L131.5 539.09 L132 539.21 L132.5 539.32 L133 539.42 L133.5 539.51 L134 539.59 L134.5 539.67 L135 539.74 L135.5 539.8 L136 539.86 L136.5 539.92 L137 539.97 L137.5 540.01 L138 540.05 L138.5 540.09 L139 540.12 L139.5 540.15 L140 540.18 L140.5 540.2 L141 540.22 L141.5 540.24 L142 540.26 L142.5 540.28 L143 540.29 L143.5 540.3 L144 540.32 L144.5 540.33 L145 540.34 L145.5 540.34 L146 540.35 L146.5 540.36 L147 540.36 L147.5 540.37 L148 540.37 L148.5 540.37 L149 540.38 L149.5 540.38 L150 540.38 L150.5 540.39 L151 540.39 L151.5 540.39 L152 540.39 L152.5 540.39 L153 540.39 L153.5 540.39 L154 540.39 L154.5 540.4 L155 540.4 L155.5 540.4 L156 540.4 L156.5 540.4 L157 540.4 L157.5 540.4 L158 540.4 L158.5 540.4 L159 540.4 L159.5 540.4 L160 540.4 L160.5 540.4 L161 540.4 L161.5 540.4 L162 540.4 L162.5 540.4 L163 540.4 L163.5 540.4 L164 540.4 L164.5 540.4 L165 540.4 L165.5 540.4 L166 540.4 L166.5 540.4 L167 540.4 L167.5 540.4 L168 540.4 L168.5 540.4 L169 540.4 L169.5 540.4 L170 540.4 L170.5 540.4 L171 540.4 L171.5 540.4 L172 540.4 L172.5 540.4 L173 540.4 L173.5 540.4 L174 540.4 L174.5 540.4 L175 540.4 L175.5 540.4 L176 540.4 L176.5 540.4 L177 540.4 L177.5 540.4 L178 540.4 L178.5 540.4 L179 540.4 L179.5 540.4 L180 540.4 L180.5 540.4 L181 540.4 L181.5 540.4 L182 540.4 L182.5 540.4 L183 540.4 L183.5 540.4 L184 540.4 L184.5 540.4 L185 540.4 L185.5 540.4 L186 540.4 L186.5 540.4 L187 540.4 L187.5 540.4 L188 540.4 L188.5 540.4 L189 540.4 L189.5 540.4 L190 540.4 L190.5 540.4 L191 540.4 L191.5 540.4 L192 540.4 L192.5 540.4 L193 540.4 L193.5 540.4 L194 540.4 L194.5 540.4 L195 540.4 L195.5 540.4 L196 540.4 L196.5 540.4 L197 540.4 L197.5 540.4 L198 540.4 L198.5 540.4 L199 540.4 L199.5 540.4 L200 540.4 L200.5 540.4 L201 540.4 L201.5 540.4 L202 540.4 L202.5 540.4 L203 540.4 L203.5 540.4 L204 540.4 L204.5 540.4 L205 540.4 L205.5 540.4 L206 540.4 L206.5 540.4 L207 540.4 L207.5 540.4 L208 540.4 L208.5 540.4 L209 540.4 L209.5 540.4 L210 540.4 L210.5 540.4 L211 540.4 L211.5 540.4 L212 540.4 L212.5 540.4 L213 540.4 L213.5 540.4 L214 540.4 L214.5 540.4 L215 540.4 L215.5 540.4 L216 540.4 L216.5 540.4 L217 540.4 L217.5 540.4 L218 540.4 L218.5 540.4 L219 540.4 L219.5 540.4 L220 540.4 L220.5 540.4 L221 540.4 L221.5 540.4 L222 540.4 L222.5 540.4 L223 540.4 L223.5 540.4 L224 540.4 L224.5 540.4 L225 540.4 L225.5 540.4 L226 540.4 L226.5 540.4 L227 540.4 L227.5 540.4 L228 540.4 L228.5 540.4 L229 540.4 L229.5 540.4 L230 540.4 L230.5 540.4 L231 540.4 L231.5 540.4 L232 540.4" fill="none" stroke="#000" stroke-width="1.6"/>
<path d="M37.5 540.4 L38 540.4 L38.5 540.4 L39 540.4 L39.5 540.4 L40 540.4 L40.5 540.4 L41 540.4 L41.5 540.4 L42 540.4 L42.5 540.4 L43 540.4 L43.5 540.4 L44 540.4 L44.5 540.4 L45 540.4 L45.5 540.4 L46 540.4 L46.5 540.4 L47 540.4 L47.5 540.4 L48 540.4 L48.5 540.4 L49 540.4 L49.5 540.4 L50 540.4 L50.5 540.4 L51 540.4 L51.5 540.4 L52 540.4 L52.5 540.4 L53 540.4 L53.5 540.4 L54 540.4 L54.5 540.4 L55 540.4 L55.5 540.4 L56 540.4 L56.5 540.4 L57 540.4 L57.5 540.4 L58 540.4 L58.5 540.4 L59 540.4 L59.5 540.4 L60 540.4 L60.5 540.4 L61 540.4 L61.5 540.4 L62 540.4 L62.5 540.4 L63 540.4 L63.5 540.4 L64 540.4 L64.5 540.4 L65 540.4 L65.5 540.4 L66 540.4 L66.5 540.4 L67 540.4 L67.5 540.4 L68 540.4 L68.5 540.4 L69 540.4 L69.5 540.4 L70 540.4 L70.5 540.4 L71 540.4 L71.5 540.4 L72 540.4 L72.5 540.4 L73 540.4 L73.5 540.4 L74 540.4 L74.5 540.4 L75 540.4 L75.5 540.4 L76 540.39 L76.5 540.39 L77 540.39 L77.5 540.39 L78 540.39 L78.5 540.39 L79 540.39 L79.5 540.39 L80 540.39 L80.5 540.38 L81 540.38 L81.5 540.38 L82 540.38 L82.5 540.37 L83 540.37 L83.5 540.37 L84 540.36 L84.5 540.36 L85 540.35 L85.5 540.35 L86 540.34 L86.5 540.33 L87 540.33 L87.5 540.32 L88 540.31 L88.5 540.3 L89 540.28 L89.5 540.27 L90 540.26 L90.5 540.24 L91 540.22 L91.5 540.2 L92 540.18 L92.5 540.16 L93 540.13 L93.5 540.1 L94 540.07 L94.5 540.03 L95 540 L95.5 539.95 L96 539.91 L96.5 539.86 L97 539.8 L97.5 539.74 L98 539.68 L98.5 539.61 L99 539.53 L99.5 539.45 L100 539.36 L100.5 539.26 L101 539.15 L101.5 539.03 L102 538.91 L102.5 538.77 L103 538.62 L103.5 538.47 L104 538.3 L104.5 538.11 L105 537.91 L105.5 537.7 L106 537.47 L106.5 537.23 L107 536.97 L107.5 536.68 L108 536.38 L108.5 536.06 L109 535.72 L109.5 535.35 L110 534.96 L110.5 534.55 L111 534.11 L111.5 533.64 L112 533.14 L112.5 532.61 L113 532.05 L113.5 531.46 L114 530.83 L114.5 530.17 L115 529.47 L115.5 528.74 L116 527.96 L116.5 527.15 L117 526.29 L117.5 525.39 L118 524.45 L118.5 523.46 L119 522.43 L119.5 521.35 L120 520.22 L120.5 519.04 L121 517.81 L121.5 516.54 L122 515.21 L122.5 513.83 L123 512.4 L123.5 510.91 L124 509.38 L124.5 507.79 L125 506.15 L125.5 504.45 L126 502.71 L126.5 500.91 L127 499.06 L127.5 497.17 L128 495.22 L128.5 493.23 L129 491.19 L129.5 489.1 L130 486.97 L130.5 484.8 L131 482.6 L131.5 480.35 L132 478.07 L132.5 475.76 L133 473.42 L133.5 471.05 L134 468.66 L134.5 466.25 L135 463.82 L135.5 461.38 L136 458.94 L136.5 456.48 L137 454.03 L137.5 451.58 L138 449.14 L138.5 446.71 L139 444.29 L139.5 441.9 L140 439.54 L140.5 437.2 L141 434.9 L141.5 432.64 L142 430.42 L142.5 428.25 L143 426.14 L143.5 424.08 L144 422.09 L144.5 420.16 L145 418.31 L145.5 416.53 L146 414.84 L146.5 413.22 L147 411.7 L147.5 410.27 L148 408.93 L148.5 407.69 L149 406.55 L149.5 405.52 L150 404.59 L150.5 403.78 L151 403.07 L151.5 402.48 L152 402 L152.5 401.63 L153 401.39 L153.5 401.26 L154 401.25 L154.5 401.35 L155 401.58 L155.5 401.92 L156 402.37 L156.5 402.94 L157 403.63 L157.5 404.42 L158 405.33 L158.5 406.34 L159 407.45 L159.5 408.67 L160 409.99 L160.5 411.4 L161 412.91 L161.5 414.51 L162 416.19 L162.5 417.95 L163 419.79 L163.5 421.7 L164 423.68 L164.5 425.72 L165 427.82 L165.5 429.98 L166 432.19 L166.5 434.44 L167 436.74 L167.5 439.07 L168 441.43 L168.5 443.81 L169 446.22 L169.5 448.65 L170 451.09 L170.5 453.54 L171 455.99 L171.5 458.45 L172 460.9 L172.5 463.34 L173 465.77 L173.5 468.18 L174 470.57 L174.5 472.95 L175 475.29 L175.5 477.61 L176 479.9 L176.5 482.15 L177 484.37 L177.5 486.54 L178 488.68 L178.5 490.77 L179 492.82 L179.5 494.83 L180 496.78 L180.5 498.69 L181 500.55 L181.5 502.35 L182 504.11 L182.5 505.81 L183 507.46 L183.5 509.06 L184 510.61 L184.5 512.1 L185 513.55 L185.5 514.94 L186 516.27 L186.5 517.56 L187 518.8 L187.5 519.99 L188 521.12 L188.5 522.21 L189 523.26 L189.5 524.25 L190 525.21 L190.5 526.11 L191 526.98 L191.5 527.8 L192 528.58 L192.5 529.33 L193 530.03 L193.5 530.7 L194 531.34 L194.5 531.93 L195 532.5 L195.5 533.03 L196 533.54 L196.5 534.01 L197 534.46 L197.5 534.88 L198 535.28 L198.5 535.65 L199 536 L199.5 536.32 L200 536.63 L200.5 536.91 L201 537.18 L201.5 537.43 L202 537.66 L202.5 537.87 L203 538.07 L203.5 538.26 L204 538.43 L204.5 538.59 L205 538.74 L205.5 538.88 L206 539.01 L206.5 539.13 L207 539.24 L207.5 539.34 L208 539.43 L208.5 539.51 L209 539.59 L209.5 539.66 L210 539.73 L210.5 539.79 L211 539.85 L211.5 539.9 L212 539.95 L212.5 539.99 L213 540.03 L213.5 540.06 L214 540.1 L214.5 540.13 L215 540.15 L215.5 540.18 L216 540.2 L216.5 540.22 L217 540.24 L217.5 540.25 L218 540.27 L218.5 540.28 L219 540.29 L219.5 540.31 L220 540.32 L220.5 540.32 L221 540.33 L221.5 540.34 L222 540.35 L222.5 540.35 L223 540.36 L223.5 540.36 L224 540.37 L224.5 540.37 L225 540.37 L225.5 540.38 L226 540.38 L226.5 540.38 L227 540.38 L227.5 540.39 L228 540.39 L228.5 540.39 L229 540.39 L229.5 540.39 L230 540.39 L230.5 540.39 L231 540.39 L231.5 540.39 L232 540.4" fill="none" stroke="#000" stroke-width="1.6"/>
<text x="0" y="0" font-size="16" text-anchor="middle" transform="translate(17.4 456.5) rotate(-90)">Counts</text>
<text x="40" y="395.8" font-size="14" font-weight="bold">2mM o-v</text>
<rect x="314.15" y="198.83" width="4" height="5.17" fill="#616161"/>
<rect x="319.73" y="198.83" width="4" height="5.17" fill="#616161"/>
<rect x="325.31" y="198.83" width="4" height="5.17" fill="#616161"/>
<rect x="330.89" y="198.83" width="4" height="5.17" fill="#616161"/>
<rect x="336.47" y="193.65" width="4" height="10.35" fill="#616161"/>
<rect x="342.05" y="178.13" width="4" height="25.87" fill="#616161"/>
<rect x="347.63" y="178.13" width="4" height="25.87" fill="#616161"/>
<rect x="353.21" y="152.27" width="4" height="51.73" fill="#616161"/>
<rect x="358.79" y="100.53" width="4" height="103.47" fill="#616161"/>
<rect x="364.37" y="95.36" width="4" height="108.64" fill="#616161"/>
<rect x="369.95" y="59.15" width="4" height="144.85" fill="#616161"/>
<rect x="375.53" y="59.15" width="4" height="144.85" fill="#616161"/>
<rect x="381.11" y="59.15" width="4" height="144.85" fill="#616161"/>
<rect x="386.69" y="59.15" width="4" height="144.85" fill="#616161"/>
<rect x="392.27" y="131.57" width="4" height="72.43" fill="#616161"/>
<rect x="397.85" y="183.31" width="4" height="20.69" fill="#616161"/>
<rect x="403.43" y="198.83" width="4" height="5.17" fill="#616161"/>
<rect x="409.01" y="198.83" width="4" height="5.17" fill="#616161"/>
<rect x="414.59" y="198.83" width="4" height="5.17" fill="#616161"/>
<line x1="313.1" y1="48.3" x2="313.1" y2="203.5" stroke="#7c7c7c" stroke-width="1.8"/>
<line x1="309.9" y1="204" x2="313.1" y2="204" stroke="#7c7c7c" stroke-width="1.3"/>
<text x="308.3" y="207.3" font-size="10.3" text-anchor="end">0</text>
<line x1="311.1" y1="188.48" x2="313.1" y2="188.48" stroke="#7c7c7c" stroke-width="1.1"/>
<line x1="309.9" y1="172.96" x2="313.1" y2="172.96" stroke="#7c7c7c" stroke-width="1.3"/>
<text x="308.3" y="176.26" font-size="10.3" text-anchor="end">6</text>
<line x1="311.1" y1="157.44" x2="313.1" y2="157.44" stroke="#7c7c7c" stroke-width="1.1"/>
<line x1="309.9" y1="141.92" x2="313.1" y2="141.92" stroke="#7c7c7c" stroke-width="1.3"/>
<text x="308.3" y="145.22" font-size="10.3" text-anchor="end">12</text>
<line x1="311.1" y1="126.4" x2="313.1" y2="126.4" stroke="#7c7c7c" stroke-width="1.1"/>
<line x1="309.9" y1="110.88" x2="313.1" y2="110.88" stroke="#7c7c7c" stroke-width="1.3"/>
<text x="308.3" y="114.18" font-size="10.3" text-anchor="end">18</text>
<line x1="311.1" y1="95.36" x2="313.1" y2="95.36" stroke="#7c7c7c" stroke-width="1.1"/>
<line x1="309.9" y1="79.84" x2="313.1" y2="79.84" stroke="#7c7c7c" stroke-width="1.3"/>
<text x="308.3" y="83.14" font-size="10.3" text-anchor="end">24</text>
<line x1="311.1" y1="64.32" x2="313.1" y2="64.32" stroke="#7c7c7c" stroke-width="1.1"/>
<line x1="309.9" y1="48.8" x2="313.1" y2="48.8" stroke="#7c7c7c" stroke-width="1.3"/>
<text x="308.3" y="52.1" font-size="10.3" text-anchor="end">30</text>
<line x1="313.1" y1="203.5" x2="507.5" y2="203.5" stroke="#7c7c7c" stroke-width="1.8"/>
<line x1="313.1" y1="203.5" x2="313.1" y2="206.3" stroke="#7c7c7c" stroke-width="1.2"/>
<line x1="340.87" y1="203.5" x2="340.87" y2="206.3" stroke="#7c7c7c" stroke-width="1.2"/>
<line x1="368.64" y1="203.5" x2="368.64" y2="206.3" stroke="#7c7c7c" stroke-width="1.2"/>
<line x1="396.41" y1="203.5" x2="396.41" y2="206.3" stroke="#7c7c7c" stroke-width="1.2"/>
<line x1="424.18" y1="203.5" x2="424.18" y2="206.3" stroke="#7c7c7c" stroke-width="1.2"/>
<line x1="451.95" y1="203.5" x2="451.95" y2="206.3" stroke="#7c7c7c" stroke-width="1.2"/>
<line x1="479.72" y1="203.5" x2="479.72" y2="206.3" stroke="#7c7c7c" stroke-width="1.2"/>
<line x1="507.49" y1="203.5" x2="507.49" y2="206.3" stroke="#7c7c7c" stroke-width="1.2"/>
<path d="M314 201.58 L314.5 201.58 L315 201.57 L315.5 201.57 L316 201.57 L316.5 201.56 L317 201.56 L317.5 201.55 L318 201.54 L318.5 201.53 L319 201.52 L319.5 201.51 L320 201.5 L320.5 201.49 L321 201.47 L321.5 201.45 L322 201.43 L322.5 201.41 L323 201.39 L323.5 201.36 L324 201.33 L324.5 201.3 L325 201.26 L325.5 201.21 L326 201.17 L326.5 201.11 L327 201.06 L327.5 200.99 L328 200.92 L328.5 200.84 L329 200.75 L329.5 200.65 L330 200.55 L330.5 200.43 L331 200.3 L331.5 200.16 L332 200 L332.5 199.83 L333 199.64 L333.5 199.44 L334 199.21 L334.5 198.97 L335 198.71 L335.5 198.42 L336 198.11 L336.5 197.77 L337 197.41 L337.5 197.01 L338 196.58 L338.5 196.12 L339 195.63 L339.5 195.1 L340 194.52 L340.5 193.91 L341 193.25 L341.5 192.55 L342 191.8 L342.5 190.99 L343 190.14 L343.5 189.23 L344 188.26 L344.5 187.24 L345 186.15 L345.5 185 L346 183.79 L346.5 182.51 L347 181.15 L347.5 179.73 L348 178.24 L348.5 176.67 L349 175.03 L349.5 173.31 L350 171.52 L350.5 169.64 L351 167.69 L351.5 165.67 L352 163.56 L352.5 161.38 L353 159.12 L353.5 156.78 L354 154.37 L354.5 151.89 L355 149.33 L355.5 146.71 L356 144.02 L356.5 141.27 L357 138.46 L357.5 135.59 L358 132.67 L358.5 129.71 L359 126.7 L359.5 123.66 L360 120.58 L360.5 117.48 L361 114.36 L361.5 111.23 L362 108.09 L362.5 104.96 L363 101.83 L363.5 98.72 L364 95.63 L364.5 92.58 L365 89.56 L365.5 86.6 L366 83.69 L366.5 80.84 L367 78.07 L367.5 75.37 L368 72.77 L368.5 70.26 L369 67.85 L369.5 65.56 L370 63.38 L370.5 61.33 L371 59.42 L371.5 57.64 L372 56 L372.5 54.51 L373 53.18 L373.5 52.01 L374 51 L374.5 50.15 L375 49.48 L375.5 48.97 L376 48.64 L376.5 48.48 L377 48.5 L377.5 48.69 L378 49.06 L378.5 49.6 L379 50.31 L379.5 51.19 L380 52.23 L380.5 53.43 L381 54.8 L381.5 56.31 L382 57.98 L382.5 59.79 L383 61.73 L383.5 63.81 L384 66.01 L384.5 68.33 L385 70.75 L385.5 73.28 L386 75.9 L386.5 78.62 L387 81.4 L387.5 84.26 L388 87.19 L388.5 90.16 L389 93.19 L389.5 96.25 L390 99.34 L390.5 102.46 L391 105.58 L391.5 108.72 L392 111.86 L392.5 114.99 L393 118.1 L393.5 121.2 L394 124.27 L394.5 127.3 L395 130.3 L395.5 133.26 L396 136.17 L396.5 139.02 L397 141.82 L397.5 144.56 L398 147.24 L398.5 149.85 L399 152.39 L399.5 154.86 L400 157.25 L400.5 159.57 L401 161.82 L401.5 163.99 L402 166.08 L402.5 168.09 L403 170.02 L403.5 171.88 L404 173.66 L404.5 175.36 L405 176.99 L405.5 178.54 L406 180.02 L406.5 181.43 L407 182.77 L407.5 184.04 L408 185.24 L408.5 186.37 L409 187.45 L409.5 188.46 L410 189.42 L410.5 190.32 L411 191.16 L411.5 191.95 L412 192.69 L412.5 193.39 L413 194.04 L413.5 194.64 L414 195.21 L414.5 195.73 L415 196.22 L415.5 196.67 L416 197.09 L416.5 197.48 L417 197.84 L417.5 198.17 L418 198.48 L418.5 198.76 L419 199.02 L419.5 199.26 L420 199.48 L420.5 199.68 L421 199.86 L421.5 200.03 L422 200.19 L422.5 200.32 L423 200.45 L423.5 200.57 L424 200.67 L424.5 200.77 L425 200.85 L425.5 200.93 L426 201 L426.5 201.07 L427 201.12 L427.5 201.18 L428 201.22 L428.5 201.27 L429 201.3 L429.5 201.34 L430 201.37 L430.5 201.39 L431 201.42 L431.5 201.44 L432 201.46 L432.5 201.47 L433 201.49 L433.5 201.5 L434 201.51 L434.5 201.53 L435 201.53 L435.5 201.54 L436 201.55 L436.5 201.56 L437 201.56 L437.5 201.57 L438 201.57 L438.5 201.57 L439 201.58 L439.5 201.58 L440 201.58 L440.5 201.59 L441 201.59 L441.5 201.59 L442 201.59 L442.5 201.59 L443 201.59 L443.5 201.59 L444 201.6 L444.5 201.6 L445 201.6 L445.5 201.6 L446 201.6 L446.5 201.6 L447 201.6 L447.5 201.6 L448 201.6 L448.5 201.6 L449 201.6 L449.5 201.6 L450 201.6 L450.5 201.6 L451 201.6 L451.5 201.6 L452 201.6 L452.5 201.6 L453 201.6 L453.5 201.6 L454 201.6 L454.5 201.6 L455 201.6 L455.5 201.6 L456 201.6 L456.5 201.6 L457 201.6 L457.5 201.6 L458 201.6 L458.5 201.6 L459 201.6 L459.5 201.6 L460 201.6 L460.5 201.6 L461 201.6 L461.5 201.6 L462 201.6 L462.5 201.6 L463 201.6 L463.5 201.6 L464 201.6 L464.5 201.6 L465 201.6 L465.5 201.6 L466 201.6 L466.5 201.6 L467 201.6 L467.5 201.6 L468 201.6 L468.5 201.6 L469 201.6 L469.5 201.6 L470 201.6 L470.5 201.6 L471 201.6 L471.5 201.6 L472 201.6 L472.5 201.6 L473 201.6 L473.5 201.6 L474 201.6 L474.5 201.6 L475 201.6 L475.5 201.6 L476 201.6 L476.5 201.6 L477 201.6 L477.5 201.6 L478 201.6 L478.5 201.6 L479 201.6 L479.5 201.6 L480 201.6 L480.5 201.6 L481 201.6 L481.5 201.6 L482 201.6 L482.5 201.6 L483 201.6 L483.5 201.6 L484 201.6 L484.5 201.6 L485 201.6 L485.5 201.6 L486 201.6 L486.5 201.6 L487 201.6 L487.5 201.6 L488 201.6 L488.5 201.6 L489 201.6 L489.5 201.6 L490 201.6 L490.5 201.6 L491 201.6 L491.5 201.6 L492 201.6 L492.5 201.6 L493 201.6 L493.5 201.6 L494 201.6 L494.5 201.6 L495 201.6 L495.5 201.6 L496 201.6 L496.5 201.6 L497 201.6 L497.5 201.6 L498 201.6 L498.5 201.6 L499 201.6 L499.5 201.6 L500 201.6 L500.5 201.6 L501 201.6 L501.5 201.6 L502 201.6 L502.5 201.6 L503 201.6 L503.5 201.6 L504 201.6 L504.5 201.6 L505 201.6 L505.5 201.6" fill="none" stroke="#000" stroke-width="1.6"/>
<text x="0" y="0" font-size="16" text-anchor="middle" transform="translate(293 118.1) rotate(-90)">Counts</text>
<text x="315.7" y="55.6" font-size="14" font-weight="bold">CTRL</text>
<rect x="314.05" y="360.37" width="4" height="10.33" fill="#616161"/>
<rect x="330.79" y="360.37" width="4" height="10.33" fill="#616161"/>
<rect x="336.37" y="360.37" width="4" height="10.33" fill="#616161"/>
<rect x="341.95" y="339.72" width="4" height="30.98" fill="#616161"/>
<rect x="347.53" y="339.72" width="4" height="30.98" fill="#616161"/>
<rect x="353.11" y="319.07" width="4" height="51.63" fill="#616161"/>
<rect x="358.69" y="277.76" width="4" height="92.94" fill="#616161"/>
<rect x="364.27" y="298.41" width="4" height="72.29" fill="#616161"/>
<rect x="369.85" y="298.41" width="4" height="72.29" fill="#616161"/>
<rect x="375.43" y="236.45" width="4" height="134.25" fill="#616161"/>
<rect x="381.01" y="246.78" width="4" height="123.92" fill="#616161"/>
<rect x="386.59" y="277.76" width="4" height="92.94" fill="#616161"/>
<rect x="392.17" y="319.07" width="4" height="51.63" fill="#616161"/>
<rect x="397.75" y="319.07" width="4" height="51.63" fill="#616161"/>
<rect x="403.33" y="350.05" width="4" height="20.65" fill="#616161"/>
<rect x="408.91" y="360.37" width="4" height="10.33" fill="#616161"/>
<line x1="313.5" y1="215.3" x2="313.5" y2="370.3" stroke="#555" stroke-width="1.35"/>
<line x1="310.3" y1="370.7" x2="313.5" y2="370.7" stroke="#555" stroke-width="1.3"/>
<text x="308.3" y="374" font-size="10.3" text-anchor="end">0</text>
<line x1="311.5" y1="360.37" x2="313.5" y2="360.37" stroke="#555" stroke-width="1.1"/>
<line x1="311.5" y1="350.05" x2="313.5" y2="350.05" stroke="#555" stroke-width="1.1"/>
<line x1="311.5" y1="339.72" x2="313.5" y2="339.72" stroke="#555" stroke-width="1.1"/>
<line x1="311.5" y1="329.39" x2="313.5" y2="329.39" stroke="#555" stroke-width="1.1"/>
<line x1="310.3" y1="319.07" x2="313.5" y2="319.07" stroke="#555" stroke-width="1.3"/>
<text x="308.3" y="322.37" font-size="10.3" text-anchor="end">5</text>
<line x1="311.5" y1="308.74" x2="313.5" y2="308.74" stroke="#555" stroke-width="1.1"/>
<line x1="311.5" y1="298.41" x2="313.5" y2="298.41" stroke="#555" stroke-width="1.1"/>
<line x1="311.5" y1="288.09" x2="313.5" y2="288.09" stroke="#555" stroke-width="1.1"/>
<line x1="311.5" y1="277.76" x2="313.5" y2="277.76" stroke="#555" stroke-width="1.1"/>
<line x1="310.3" y1="267.43" x2="313.5" y2="267.43" stroke="#555" stroke-width="1.3"/>
<text x="308.3" y="270.73" font-size="10.3" text-anchor="end">10</text>
<line x1="311.5" y1="257.11" x2="313.5" y2="257.11" stroke="#555" stroke-width="1.1"/>
<line x1="311.5" y1="246.78" x2="313.5" y2="246.78" stroke="#555" stroke-width="1.1"/>
<line x1="311.5" y1="236.45" x2="313.5" y2="236.45" stroke="#555" stroke-width="1.1"/>
<line x1="311.5" y1="226.13" x2="313.5" y2="226.13" stroke="#555" stroke-width="1.1"/>
<line x1="310.3" y1="215.8" x2="313.5" y2="215.8" stroke="#555" stroke-width="1.3"/>
<text x="308.3" y="219.1" font-size="10.3" text-anchor="end">15</text>
<line x1="313.5" y1="370.3" x2="508.5" y2="370.3" stroke="#555" stroke-width="1.35"/>
<line x1="313.5" y1="370.3" x2="313.5" y2="373.1" stroke="#555" stroke-width="1.2"/>
<line x1="341.36" y1="370.3" x2="341.36" y2="373.1" stroke="#555" stroke-width="1.2"/>
<line x1="369.22" y1="370.3" x2="369.22" y2="373.1" stroke="#555" stroke-width="1.2"/>
<line x1="397.08" y1="370.3" x2="397.08" y2="373.1" stroke="#555" stroke-width="1.2"/>
<line x1="424.94" y1="370.3" x2="424.94" y2="373.1" stroke="#555" stroke-width="1.2"/>
<line x1="452.8" y1="370.3" x2="452.8" y2="373.1" stroke="#555" stroke-width="1.2"/>
<line x1="480.66" y1="370.3" x2="480.66" y2="373.1" stroke="#555" stroke-width="1.2"/>
<line x1="508.52" y1="370.3" x2="508.52" y2="373.1" stroke="#555" stroke-width="1.2"/>
<path d="M314 367.92 L314.5 367.91 L315 367.9 L315.5 367.88 L316 367.87 L316.5 367.86 L317 367.84 L317.5 367.82 L318 367.8 L318.5 367.78 L319 367.75 L319.5 367.72 L320 367.69 L320.5 367.66 L321 367.62 L321.5 367.58 L322 367.54 L322.5 367.49 L323 367.44 L323.5 367.38 L324 367.32 L324.5 367.25 L325 367.18 L325.5 367.1 L326 367.01 L326.5 366.91 L327 366.81 L327.5 366.7 L328 366.58 L328.5 366.44 L329 366.3 L329.5 366.15 L330 365.98 L330.5 365.8 L331 365.61 L331.5 365.41 L332 365.18 L332.5 364.95 L333 364.69 L333.5 364.42 L334 364.12 L334.5 363.81 L335 363.48 L335.5 363.12 L336 362.74 L336.5 362.34 L337 361.91 L337.5 361.46 L338 360.97 L338.5 360.46 L339 359.92 L339.5 359.35 L340 358.74 L340.5 358.1 L341 357.43 L341.5 356.72 L342 355.98 L342.5 355.19 L343 354.37 L343.5 353.51 L344 352.61 L344.5 351.67 L345 350.68 L345.5 349.66 L346 348.59 L346.5 347.47 L347 346.32 L347.5 345.11 L348 343.87 L348.5 342.57 L349 341.24 L349.5 339.85 L350 338.43 L350.5 336.96 L351 335.44 L351.5 333.88 L352 332.28 L352.5 330.64 L353 328.96 L353.5 327.24 L354 325.49 L354.5 323.7 L355 321.87 L355.5 320.01 L356 318.13 L356.5 316.22 L357 314.28 L357.5 312.32 L358 310.34 L358.5 308.34 L359 306.33 L359.5 304.32 L360 302.29 L360.5 300.26 L361 298.24 L361.5 296.21 L362 294.2 L362.5 292.2 L363 290.21 L363.5 288.25 L364 286.31 L364.5 284.39 L365 282.51 L365.5 280.67 L366 278.87 L366.5 277.12 L367 275.41 L367.5 273.76 L368 272.16 L368.5 270.63 L369 269.16 L369.5 267.76 L370 266.43 L370.5 265.18 L371 264.01 L371.5 262.92 L372 261.91 L372.5 260.99 L373 260.16 L373.5 259.43 L374 258.79 L374.5 258.24 L375 257.79 L375.5 257.44 L376 257.19 L376.5 257.04 L377 256.99 L377.5 257.04 L378 257.19 L378.5 257.44 L379 257.79 L379.5 258.24 L380 258.79 L380.5 259.43 L381 260.16 L381.5 260.99 L382 261.91 L382.5 262.92 L383 264.01 L383.5 265.18 L384 266.43 L384.5 267.76 L385 269.16 L385.5 270.63 L386 272.16 L386.5 273.76 L387 275.41 L387.5 277.12 L388 278.87 L388.5 280.67 L389 282.51 L389.5 284.39 L390 286.31 L390.5 288.25 L391 290.21 L391.5 292.2 L392 294.2 L392.5 296.21 L393 298.24 L393.5 300.26 L394 302.29 L394.5 304.32 L395 306.33 L395.5 308.34 L396 310.34 L396.5 312.32 L397 314.28 L397.5 316.22 L398 318.13 L398.5 320.01 L399 321.87 L399.5 323.7 L400 325.49 L400.5 327.24 L401 328.96 L401.5 330.64 L402 332.28 L402.5 333.88 L403 335.44 L403.5 336.96 L404 338.43 L404.5 339.85 L405 341.24 L405.5 342.57 L406 343.87 L406.5 345.11 L407 346.32 L407.5 347.47 L408 348.59 L408.5 349.66 L409 350.68 L409.5 351.67 L410 352.61 L410.5 353.51 L411 354.37 L411.5 355.19 L412 355.98 L412.5 356.72 L413 357.43 L413.5 358.1 L414 358.74 L414.5 359.35 L415 359.92 L415.5 360.46 L416 360.97 L416.5 361.46 L417 361.91 L417.5 362.34 L418 362.74 L418.5 363.12 L419 363.48 L419.5 363.81 L420 364.12 L420.5 364.42 L421 364.69 L421.5 364.95 L422 365.18 L422.5 365.41 L423 365.61 L423.5 365.8 L424 365.98 L424.5 366.15 L425 366.3 L425.5 366.44 L426 366.58 L426.5 366.7 L427 366.81 L427.5 366.91 L428 367.01 L428.5 367.1 L429 367.18 L429.5 367.25 L430 367.32 L430.5 367.38 L431 367.44 L431.5 367.49 L432 367.54 L432.5 367.58 L433 367.62 L433.5 367.66 L434 367.69 L434.5 367.72 L435 367.75 L435.5 367.78 L436 367.8 L436.5 367.82 L437 367.84 L437.5 367.86 L438 367.87 L438.5 367.88 L439 367.9 L439.5 367.91 L440 367.92 L440.5 367.93 L441 367.93 L441.5 367.94 L442 367.95 L442.5 367.95 L443 367.96 L443.5 367.96 L444 367.97 L444.5 367.97 L445 367.97 L445.5 367.98 L446 367.98 L446.5 367.98 L447 367.98 L447.5 367.99 L448 367.99 L448.5 367.99 L449 367.99 L449.5 367.99 L450 367.99 L450.5 367.99 L451 367.99 L451.5 368 L452 368 L452.5 368 L453 368 L453.5 368 L454 368 L454.5 368 L455 368 L455.5 368 L456 368 L456.5 368 L457 368 L457.5 368 L458 368 L458.5 368 L459 368 L459.5 368 L460 368 L460.5 368 L461 368 L461.5 368 L462 368 L462.5 368 L463 368 L463.5 368 L464 368 L464.5 368 L465 368 L465.5 368 L466 368 L466.5 368 L467 368 L467.5 368 L468 368 L468.5 368 L469 368 L469.5 368 L470 368 L470.5 368 L471 368 L471.5 368 L472 368 L472.5 368 L473 368 L473.5 368 L474 368 L474.5 368 L475 368 L475.5 368 L476 368 L476.5 368 L477 368 L477.5 368 L478 368 L478.5 368 L479 368 L479.5 368 L480 368 L480.5 368 L481 368 L481.5 368 L482 368 L482.5 368 L483 368 L483.5 368 L484 368 L484.5 368 L485 368 L485.5 368 L486 368 L486.5 368 L487 368 L487.5 368 L488 368 L488.5 368 L489 368 L489.5 368 L490 368 L490.5 368 L491 368 L491.5 368 L492 368 L492.5 368 L493 368 L493.5 368 L494 368 L494.5 368 L495 368 L495.5 368 L496 368 L496.5 368 L497 368 L497.5 368 L498 368 L498.5 368 L499 368 L499.5 368 L500 368 L500.5 368 L501 368 L501.5 368 L502 368 L502.5 368 L503 368 L503.5 368 L504 368 L504.5 368 L505 368 L505.5 368 L506 368 L506.5 368 L507 368 L507.5 368 L508 368" fill="none" stroke="#000" stroke-width="1.6"/>
<text x="0" y="0" font-size="16" text-anchor="middle" transform="translate(293.7 287.7) rotate(-90)">Counts</text>
<text x="316.2" y="226.2" font-size="14" font-weight="bold">1mM o-v</text>
<rect x="317.75" y="528.3" width="4" height="10.4" fill="#616161"/>
<rect x="340.03" y="528.3" width="4" height="10.4" fill="#616161"/>
<rect x="345.6" y="517.9" width="4" height="20.8" fill="#616161"/>
<rect x="351.17" y="497.1" width="4" height="41.6" fill="#616161"/>
<rect x="356.74" y="476.3" width="4" height="62.4" fill="#616161"/>
<rect x="362.31" y="507.5" width="4" height="31.2" fill="#616161"/>
<rect x="367.88" y="434.7" width="4" height="104" fill="#616161"/>
<rect x="373.45" y="476.3" width="4" height="62.4" fill="#616161"/>
<rect x="379.02" y="413.9" width="4" height="124.8" fill="#616161"/>
<rect x="384.59" y="465.9" width="4" height="72.8" fill="#616161"/>
<rect x="390.16" y="476.3" width="4" height="62.4" fill="#616161"/>
<rect x="395.73" y="465.9" width="4" height="72.8" fill="#616161"/>
<rect x="401.3" y="528.3" width="4" height="10.4" fill="#616161"/>
<rect x="412.44" y="497.1" width="4" height="41.6" fill="#616161"/>
<rect x="418.01" y="507.5" width="4" height="31.2" fill="#616161"/>
<rect x="423.58" y="507.5" width="4" height="31.2" fill="#616161"/>
<rect x="429.15" y="497.1" width="4" height="41.6" fill="#616161"/>
<rect x="434.72" y="486.7" width="4" height="52" fill="#616161"/>
<rect x="445.86" y="517.9" width="4" height="20.8" fill="#616161"/>
<line x1="311.4" y1="382.2" x2="311.4" y2="538.3" stroke="#555" stroke-width="1.35"/>
<line x1="308.2" y1="538.7" x2="311.4" y2="538.7" stroke="#555" stroke-width="1.3"/>
<text x="306.3" y="542" font-size="10.3" text-anchor="end">0</text>
<line x1="309.4" y1="528.3" x2="311.4" y2="528.3" stroke="#555" stroke-width="1.1"/>
<line x1="309.4" y1="517.9" x2="311.4" y2="517.9" stroke="#555" stroke-width="1.1"/>
<line x1="309.4" y1="507.5" x2="311.4" y2="507.5" stroke="#555" stroke-width="1.1"/>
<line x1="309.4" y1="497.1" x2="311.4" y2="497.1" stroke="#555" stroke-width="1.1"/>
<line x1="308.2" y1="486.7" x2="311.4" y2="486.7" stroke="#555" stroke-width="1.3"/>
<text x="306.3" y="490" font-size="10.3" text-anchor="end">5</text>
<line x1="309.4" y1="476.3" x2="311.4" y2="476.3" stroke="#555" stroke-width="1.1"/>
<line x1="309.4" y1="465.9" x2="311.4" y2="465.9" stroke="#555" stroke-width="1.1"/>
<line x1="309.4" y1="455.5" x2="311.4" y2="455.5" stroke="#555" stroke-width="1.1"/>
<line x1="309.4" y1="445.1" x2="311.4" y2="445.1" stroke="#555" stroke-width="1.1"/>
<line x1="308.2" y1="434.7" x2="311.4" y2="434.7" stroke="#555" stroke-width="1.3"/>
<text x="306.3" y="438" font-size="10.3" text-anchor="end">10</text>
<line x1="309.4" y1="424.3" x2="311.4" y2="424.3" stroke="#555" stroke-width="1.1"/>
<line x1="309.4" y1="413.9" x2="311.4" y2="413.9" stroke="#555" stroke-width="1.1"/>
<line x1="309.4" y1="403.5" x2="311.4" y2="403.5" stroke="#555" stroke-width="1.1"/>
<line x1="309.4" y1="393.1" x2="311.4" y2="393.1" stroke="#555" stroke-width="1.1"/>
<line x1="308.2" y1="382.7" x2="311.4" y2="382.7" stroke="#555" stroke-width="1.3"/>
<text x="306.3" y="386" font-size="10.3" text-anchor="end">15</text>
<line x1="311.4" y1="538.3" x2="504.6" y2="538.3" stroke="#555" stroke-width="1.35"/>
<line x1="311.4" y1="538.3" x2="311.4" y2="541.1" stroke="#555" stroke-width="1.2"/>
<line x1="339.15" y1="538.3" x2="339.15" y2="541.1" stroke="#555" stroke-width="1.2"/>
<line x1="366.9" y1="538.3" x2="366.9" y2="541.1" stroke="#555" stroke-width="1.2"/>
<line x1="394.65" y1="538.3" x2="394.65" y2="541.1" stroke="#555" stroke-width="1.2"/>
<line x1="422.4" y1="538.3" x2="422.4" y2="541.1" stroke="#555" stroke-width="1.2"/>
<line x1="450.15" y1="538.3" x2="450.15" y2="541.1" stroke="#555" stroke-width="1.2"/>
<line x1="477.9" y1="538.3" x2="477.9" y2="541.1" stroke="#555" stroke-width="1.2"/>
<text x="311.4" y="551.5" font-size="11.6" text-anchor="middle">-14</text>
<text x="366.9" y="551.5" font-size="11.6" text-anchor="middle">-12</text>
<text x="422.4" y="551.5" font-size="11.6" text-anchor="middle">-10</text>
<text x="477.9" y="551.5" font-size="11.6" text-anchor="middle">-8</text>
<path d="M312.4 538.27 L312.9 538.26 L313.4 538.26 L313.9 538.25 L314.4 538.24 L314.9 538.24 L315.4 538.23 L315.9 538.22 L316.4 538.21 L316.9 538.2 L317.4 538.19 L317.9 538.17 L318.4 538.16 L318.9 538.14 L319.4 538.13 L319.9 538.11 L320.4 538.08 L320.9 538.06 L321.4 538.03 L321.9 538 L322.4 537.97 L322.9 537.94 L323.4 537.9 L323.9 537.85 L324.4 537.81 L324.9 537.76 L325.4 537.7 L325.9 537.64 L326.4 537.57 L326.9 537.5 L327.4 537.42 L327.9 537.33 L328.4 537.24 L328.9 537.14 L329.4 537.03 L329.9 536.91 L330.4 536.78 L330.9 536.64 L331.4 536.49 L331.9 536.33 L332.4 536.16 L332.9 535.97 L333.4 535.77 L333.9 535.55 L334.4 535.32 L334.9 535.07 L335.4 534.81 L335.9 534.52 L336.4 534.22 L336.9 533.9 L337.4 533.55 L337.9 533.18 L338.4 532.79 L338.9 532.38 L339.4 531.94 L339.9 531.47 L340.4 530.98 L340.9 530.46 L341.4 529.91 L341.9 529.33 L342.4 528.72 L342.9 528.07 L343.4 527.4 L343.9 526.69 L344.4 525.94 L344.9 525.16 L345.4 524.34 L345.9 523.49 L346.4 522.6 L346.9 521.67 L347.4 520.7 L347.9 519.69 L348.4 518.65 L348.9 517.56 L349.4 516.44 L349.9 515.28 L350.4 514.08 L350.9 512.83 L351.4 511.55 L351.9 510.24 L352.4 508.88 L352.9 507.49 L353.4 506.07 L353.9 504.6 L354.4 503.11 L354.9 501.59 L355.4 500.03 L355.9 498.45 L356.4 496.84 L356.9 495.2 L357.4 493.54 L357.9 491.87 L358.4 490.17 L358.9 488.46 L359.4 486.74 L359.9 485.01 L360.4 483.27 L360.9 481.53 L361.4 479.79 L361.9 478.05 L362.4 476.32 L362.9 474.6 L363.4 472.89 L363.9 471.2 L364.4 469.53 L364.9 467.89 L365.4 466.28 L365.9 464.69 L366.4 463.15 L366.9 461.64 L367.4 460.18 L367.9 458.76 L368.4 457.39 L368.9 456.08 L369.4 454.83 L369.9 453.63 L370.4 452.5 L370.9 451.44 L371.4 450.44 L371.9 449.52 L372.4 448.67 L372.9 447.9 L373.4 447.21 L373.9 446.6 L374.4 446.07 L374.9 445.63 L375.4 445.27 L375.9 445 L376.4 444.81 L376.9 444.72 L377.4 444.71 L377.9 444.79 L378.4 444.95 L378.9 445.21 L379.4 445.55 L379.9 445.98 L380.4 446.49 L380.9 447.08 L381.4 447.76 L381.9 448.51 L382.4 449.34 L382.9 450.25 L383.4 451.23 L383.9 452.28 L384.4 453.4 L384.9 454.58 L385.4 455.83 L385.9 457.13 L386.4 458.48 L386.9 459.89 L387.4 461.34 L387.9 462.84 L388.4 464.38 L388.9 465.96 L389.4 467.57 L389.9 469.2 L390.4 470.87 L390.9 472.55 L391.4 474.26 L391.9 475.97 L392.4 477.7 L392.9 479.44 L393.4 481.18 L393.9 482.92 L394.4 484.66 L394.9 486.39 L395.4 488.12 L395.9 489.83 L396.4 491.53 L396.9 493.21 L397.4 494.87 L397.9 496.51 L398.4 498.13 L398.9 499.71 L399.4 501.28 L399.9 502.81 L400.4 504.31 L400.9 505.78 L401.4 507.21 L401.9 508.61 L402.4 509.97 L402.9 511.29 L403.4 512.58 L403.9 513.83 L404.4 515.04 L404.9 516.21 L405.4 517.34 L405.9 518.44 L406.4 519.49 L406.9 520.5 L407.4 521.48 L407.9 522.42 L408.4 523.31 L408.9 524.18 L409.4 525 L409.9 525.79 L410.4 526.54 L410.9 527.26 L411.4 527.94 L411.9 528.59 L412.4 529.21 L412.9 529.8 L413.4 530.35 L413.9 530.88 L414.4 531.38 L414.9 531.85 L415.4 532.29 L415.9 532.71 L416.4 533.11 L416.9 533.48 L417.4 533.83 L417.9 534.16 L418.4 534.46 L418.9 534.75 L419.4 535.02 L419.9 535.27 L420.4 535.51 L420.9 535.73 L421.4 535.93 L421.9 536.12 L422.4 536.3 L422.9 536.46 L423.4 536.61 L423.9 536.76 L424.4 536.89 L424.9 537.01 L425.4 537.12 L425.9 537.22 L426.4 537.32 L426.9 537.4 L427.4 537.48 L427.9 537.56 L428.4 537.63 L428.9 537.69 L429.4 537.75 L429.9 537.8 L430.4 537.84 L430.9 537.89 L431.4 537.93 L431.9 537.96 L432.4 538 L432.9 538.03 L433.4 538.05 L433.9 538.08 L434.4 538.1 L434.9 538.12 L435.4 538.14 L435.9 538.16 L436.4 538.17 L436.9 538.19 L437.4 538.2 L437.9 538.21 L438.4 538.22 L438.9 538.23 L439.4 538.24 L439.9 538.24 L440.4 538.25 L440.9 538.25 L441.4 538.26 L441.9 538.26 L442.4 538.27 L442.9 538.27 L443.4 538.28 L443.9 538.28 L444.4 538.28 L444.9 538.28 L445.4 538.29 L445.9 538.29 L446.4 538.29 L446.9 538.29 L447.4 538.29 L447.9 538.29 L448.4 538.29 L448.9 538.29 L449.4 538.29 L449.9 538.3 L450.4 538.3 L450.9 538.3 L451.4 538.3 L451.9 538.3 L452.4 538.3 L452.9 538.3 L453.4 538.3 L453.9 538.3 L454.4 538.3 L454.9 538.3 L455.4 538.3 L455.9 538.3 L456.4 538.3 L456.9 538.3 L457.4 538.3 L457.9 538.3 L458.4 538.3 L458.9 538.3 L459.4 538.3 L459.9 538.3 L460.4 538.3 L460.9 538.3 L461.4 538.3 L461.9 538.3 L462.4 538.3 L462.9 538.3 L463.4 538.3 L463.9 538.3 L464.4 538.3 L464.9 538.3 L465.4 538.3 L465.9 538.3 L466.4 538.3 L466.9 538.3 L467.4 538.3 L467.9 538.3 L468.4 538.3 L468.9 538.3 L469.4 538.3 L469.9 538.3 L470.4 538.3 L470.9 538.3 L471.4 538.3 L471.9 538.3 L472.4 538.3 L472.9 538.3 L473.4 538.3 L473.9 538.3 L474.4 538.3 L474.9 538.3 L475.4 538.3 L475.9 538.3 L476.4 538.3 L476.9 538.3 L477.4 538.3 L477.9 538.3 L478.4 538.3 L478.9 538.3 L479.4 538.3 L479.9 538.3 L480.4 538.3 L480.9 538.3 L481.4 538.3 L481.9 538.3 L482.4 538.3 L482.9 538.3 L483.4 538.3 L483.9 538.3 L484.4 538.3 L484.9 538.3 L485.4 538.3 L485.9 538.3 L486.4 538.3 L486.9 538.3 L487.4 538.3 L487.9 538.3 L488.4 538.3 L488.9 538.3 L489.4 538.3 L489.9 538.3 L490.4 538.3 L490.9 538.3 L491.4 538.3 L491.9 538.3 L492.4 538.3 L492.9 538.3 L493.4 538.3 L493.9 538.3 L494.4 538.3 L494.9 538.3 L495.4 538.3 L495.9 538.3 L496.4 538.3 L496.9 538.3 L497.4 538.3 L497.9 538.3 L498.4 538.3 L498.9 538.3 L499.4 538.3 L499.9 538.3 L500.4 538.3 L500.9 538.3 L501.4 538.3 L501.9 538.3 L502.4 538.3 L502.9 538.3 L503.4 538.3 L503.9 538.3" fill="none" stroke="#000" stroke-width="1.6"/>
<path d="M312.4 538.3 L312.9 538.3 L313.4 538.3 L313.9 538.3 L314.4 538.3 L314.9 538.3 L315.4 538.3 L315.9 538.3 L316.4 538.3 L316.9 538.3 L317.4 538.3 L317.9 538.3 L318.4 538.3 L318.9 538.3 L319.4 538.3 L319.9 538.3 L320.4 538.3 L320.9 538.3 L321.4 538.3 L321.9 538.3 L322.4 538.3 L322.9 538.3 L323.4 538.3 L323.9 538.3 L324.4 538.3 L324.9 538.3 L325.4 538.3 L325.9 538.3 L326.4 538.3 L326.9 538.3 L327.4 538.3 L327.9 538.3 L328.4 538.3 L328.9 538.3 L329.4 538.3 L329.9 538.3 L330.4 538.3 L330.9 538.3 L331.4 538.3 L331.9 538.3 L332.4 538.3 L332.9 538.3 L333.4 538.3 L333.9 538.3 L334.4 538.3 L334.9 538.3 L335.4 538.3 L335.9 538.3 L336.4 538.3 L336.9 538.3 L337.4 538.3 L337.9 538.3 L338.4 538.3 L338.9 538.3 L339.4 538.3 L339.9 538.3 L340.4 538.3 L340.9 538.3 L341.4 538.3 L341.9 538.3 L342.4 538.3 L342.9 538.3 L343.4 538.3 L343.9 538.3 L344.4 538.3 L344.9 538.3 L345.4 538.3 L345.9 538.3 L346.4 538.3 L346.9 538.3 L347.4 538.3 L347.9 538.3 L348.4 538.3 L348.9 538.3 L349.4 538.3 L349.9 538.3 L350.4 538.3 L350.9 538.3 L351.4 538.3 L351.9 538.3 L352.4 538.3 L352.9 538.3 L353.4 538.3 L353.9 538.3 L354.4 538.3 L354.9 538.3 L355.4 538.3 L355.9 538.3 L356.4 538.3 L356.9 538.3 L357.4 538.3 L357.9 538.3 L358.4 538.3 L358.9 538.3 L359.4 538.3 L359.9 538.3 L360.4 538.3 L360.9 538.3 L361.4 538.3 L361.9 538.3 L362.4 538.3 L362.9 538.3 L363.4 538.3 L363.9 538.3 L364.4 538.3 L364.9 538.3 L365.4 538.3 L365.9 538.3 L366.4 538.3 L366.9 538.3 L367.4 538.3 L367.9 538.3 L368.4 538.3 L368.9 538.3 L369.4 538.3 L369.9 538.3 L370.4 538.3 L370.9 538.3 L371.4 538.3 L371.9 538.3 L372.4 538.3 L372.9 538.3 L373.4 538.3 L373.9 538.3 L374.4 538.3 L374.9 538.3 L375.4 538.3 L375.9 538.3 L376.4 538.3 L376.9 538.3 L377.4 538.3 L377.9 538.3 L378.4 538.3 L378.9 538.3 L379.4 538.3 L379.9 538.3 L380.4 538.3 L380.9 538.3 L381.4 538.3 L381.9 538.3 L382.4 538.3 L382.9 538.3 L383.4 538.3 L383.9 538.3 L384.4 538.3 L384.9 538.3 L385.4 538.3 L385.9 538.3 L386.4 538.3 L386.9 538.3 L387.4 538.3 L387.9 538.3 L388.4 538.3 L388.9 538.3 L389.4 538.3 L389.9 538.3 L390.4 538.29 L390.9 538.29 L391.4 538.29 L391.9 538.29 L392.4 538.29 L392.9 538.28 L393.4 538.28 L393.9 538.28 L394.4 538.27 L394.9 538.26 L395.4 538.26 L395.9 538.25 L396.4 538.24 L396.9 538.22 L397.4 538.21 L397.9 538.19 L398.4 538.17 L398.9 538.14 L399.4 538.11 L399.9 538.07 L400.4 538.03 L400.9 537.98 L401.4 537.93 L401.9 537.86 L402.4 537.79 L402.9 537.7 L403.4 537.6 L403.9 537.49 L404.4 537.36 L404.9 537.22 L405.4 537.05 L405.9 536.87 L406.4 536.66 L406.9 536.42 L407.4 536.16 L407.9 535.88 L408.4 535.55 L408.9 535.2 L409.4 534.81 L409.9 534.38 L410.4 533.91 L410.9 533.39 L411.4 532.84 L411.9 532.23 L412.4 531.58 L412.9 530.88 L413.4 530.12 L413.9 529.32 L414.4 528.46 L414.9 527.55 L415.4 526.59 L415.9 525.58 L416.4 524.52 L416.9 523.41 L417.4 522.26 L417.9 521.06 L418.4 519.83 L418.9 518.57 L419.4 517.28 L419.9 515.96 L420.4 514.63 L420.9 513.29 L421.4 511.95 L421.9 510.61 L422.4 509.28 L422.9 507.97 L423.4 506.69 L423.9 505.45 L424.4 504.26 L424.9 503.12 L425.4 502.04 L425.9 501.03 L426.4 500.1 L426.9 499.26 L427.4 498.5 L427.9 497.85 L428.4 497.29 L428.9 496.85 L429.4 496.51 L429.9 496.29 L430.4 496.19 L430.9 496.2 L431.4 496.33 L431.9 496.57 L432.4 496.93 L432.9 497.4 L433.4 497.97 L433.9 498.65 L434.4 499.42 L434.9 500.28 L435.4 501.23 L435.9 502.25 L436.4 503.34 L436.9 504.49 L437.4 505.7 L437.9 506.95 L438.4 508.23 L438.9 509.54 L439.4 510.87 L439.9 512.22 L440.4 513.56 L440.9 514.9 L441.4 516.23 L441.9 517.54 L442.4 518.83 L442.9 520.08 L443.4 521.31 L443.9 522.49 L444.4 523.64 L444.9 524.73 L445.4 525.78 L445.9 526.79 L446.4 527.74 L446.9 528.63 L447.4 529.48 L447.9 530.28 L448.4 531.02 L448.9 531.71 L449.4 532.36 L449.9 532.95 L450.4 533.5 L450.9 534 L451.4 534.47 L451.9 534.89 L452.4 535.27 L452.9 535.62 L453.4 535.94 L453.9 536.22 L454.4 536.47 L454.9 536.7 L455.4 536.9 L455.9 537.09 L456.4 537.25 L456.9 537.39 L457.4 537.51 L457.9 537.62 L458.4 537.72 L458.9 537.8 L459.4 537.87 L459.9 537.94 L460.4 537.99 L460.9 538.04 L461.4 538.08 L461.9 538.11 L462.4 538.14 L462.9 538.17 L463.4 538.19 L463.9 538.21 L464.4 538.22 L464.9 538.24 L465.4 538.25 L465.9 538.26 L466.4 538.27 L466.9 538.27 L467.4 538.28 L467.9 538.28 L468.4 538.28 L468.9 538.29 L469.4 538.29 L469.9 538.29 L470.4 538.29 L470.9 538.29 L471.4 538.3 L471.9 538.3 L472.4 538.3 L472.9 538.3 L473.4 538.3 L473.9 538.3 L474.4 538.3 L474.9 538.3 L475.4 538.3 L475.9 538.3 L476.4 538.3 L476.9 538.3 L477.4 538.3 L477.9 538.3 L478.4 538.3 L478.9 538.3 L479.4 538.3 L479.9 538.3 L480.4 538.3 L480.9 538.3 L481.4 538.3 L481.9 538.3 L482.4 538.3 L482.9 538.3 L483.4 538.3 L483.9 538.3 L484.4 538.3 L484.9 538.3 L485.4 538.3 L485.9 538.3 L486.4 538.3 L486.9 538.3 L487.4 538.3 L487.9 538.3 L488.4 538.3 L488.9 538.3 L489.4 538.3 L489.9 538.3 L490.4 538.3 L490.9 538.3 L491.4 538.3 L491.9 538.3 L492.4 538.3 L492.9 538.3 L493.4 538.3 L493.9 538.3 L494.4 538.3 L494.9 538.3 L495.4 538.3 L495.9 538.3 L496.4 538.3 L496.9 538.3 L497.4 538.3 L497.9 538.3 L498.4 538.3 L498.9 538.3 L499.4 538.3 L499.9 538.3 L500.4 538.3 L500.9 538.3 L501.4 538.3 L501.9 538.3 L502.4 538.3 L502.9 538.3 L503.4 538.3 L503.9 538.3" fill="none" stroke="#000" stroke-width="1.6"/>
<text x="0" y="0" font-size="16" text-anchor="middle" transform="translate(292 456) rotate(-90)">Counts</text>
<text x="317.3" y="396" font-size="14" font-weight="bold">2mM o-v</text>
<text x="172.6" y="62.2" font-size="13.8">7.4 &#177; 0.5 x 10<tspan font-size="6" dy="-7.2" dx="0.9" stroke="#000" stroke-width="0.3">-11</tspan></text>
<text x="205" y="76.6" font-size="13.8">23%</text>
<text x="173.6" y="101.4" font-size="13.8">1.2 &#177; 0.3 x 10<tspan font-size="6" dy="-7.2" dx="0.9" stroke="#000" stroke-width="0.3">-11</tspan></text>
<text x="206.7" y="116" font-size="13.8">77%</text>
<text x="174.6" y="232.9" font-size="13.8">4.7 &#177; 0.3 x 10<tspan font-size="6" dy="-7.2" dx="0.9" stroke="#000" stroke-width="0.3">-11</tspan></text>
<text x="209.3" y="248.4" font-size="13.8">63%</text>
<text x="174.6" y="272.3" font-size="13.8">3.3 &#177; 0.6 x 10<tspan font-size="6" dy="-7.2" dx="0.9" stroke="#000" stroke-width="0.3">-12</tspan></text>
<text x="209.3" y="287.2" font-size="13.8">37%</text>
<text x="172.2" y="401.1" font-size="13.8">1.48 &#177; 0.08 x 10<tspan font-size="6" dy="-7.2" dx="0.9" stroke="#000" stroke-width="0.3">-10</tspan></text>
<text x="213.2" y="416.4" font-size="13.8">84%</text>
<text x="175" y="440.2" font-size="13.8">1.5 &#177; 0.3 x 10<tspan font-size="6" dy="-7.2" dx="0.9" stroke="#000" stroke-width="0.3">-12</tspan></text>
<text x="212.7" y="455" font-size="13.8">16%</text>
<text x="401.5" y="62" font-size="13.8">1.86 &#177; 0.06 x 10<tspan font-size="6" dy="-7.2" dx="0.9" stroke="#000" stroke-width="0.3">-12</tspan></text>
<text x="414.6" y="242.6" font-size="13.8">1.9 &#177; 0.1 x 10<tspan font-size="6" dy="-7.2" dx="0.9" stroke="#000" stroke-width="0.3">-11</tspan></text>
<text x="412.6" y="401.2" font-size="13.8">2.5 &#177; 0.4 x 10<tspan font-size="6" dy="-7.2" dx="0.9" stroke="#000" stroke-width="0.3">-12</tspan></text>
<text x="445.5" y="417" font-size="13.8">79%</text>
<text x="413.4" y="439.2" font-size="13.8">1.8 &#177; 0.5 x 10<tspan font-size="6" dy="-7.2" dx="0.9" stroke="#000" stroke-width="0.3">-10</tspan></text>
<text x="447.5" y="454.5" font-size="13.8">21%</text>
<text x="62.2" y="567.8" font-size="16">log(Dmicro) Cm<tspan font-size="7.6" dy="-8.2" dx="0.3">2</tspan><tspan dy="8.2">/s</tspan></text>
<text x="335.0" y="567.8" font-size="16">log(Dmicro) Cm<tspan font-size="7.6" dy="-8.2" dx="0.3">2</tspan><tspan dy="8.2">/s</tspan></text>
<line x1="120.2" y1="42.7" x2="120.2" y2="546.5" stroke="#000" stroke-width="2.6" stroke-dasharray="16.1 6.5"/>
<line x1="142.45" y1="42.7" x2="142.45" y2="546.5" stroke="#000" stroke-width="2.6" stroke-dasharray="16.1 6.5"/>
<line x1="377.0" y1="42.8" x2="377.0" y2="546.3" stroke="#000" stroke-width="2.6" stroke-dasharray="16.1 6.5"/>
</svg></body></html>
